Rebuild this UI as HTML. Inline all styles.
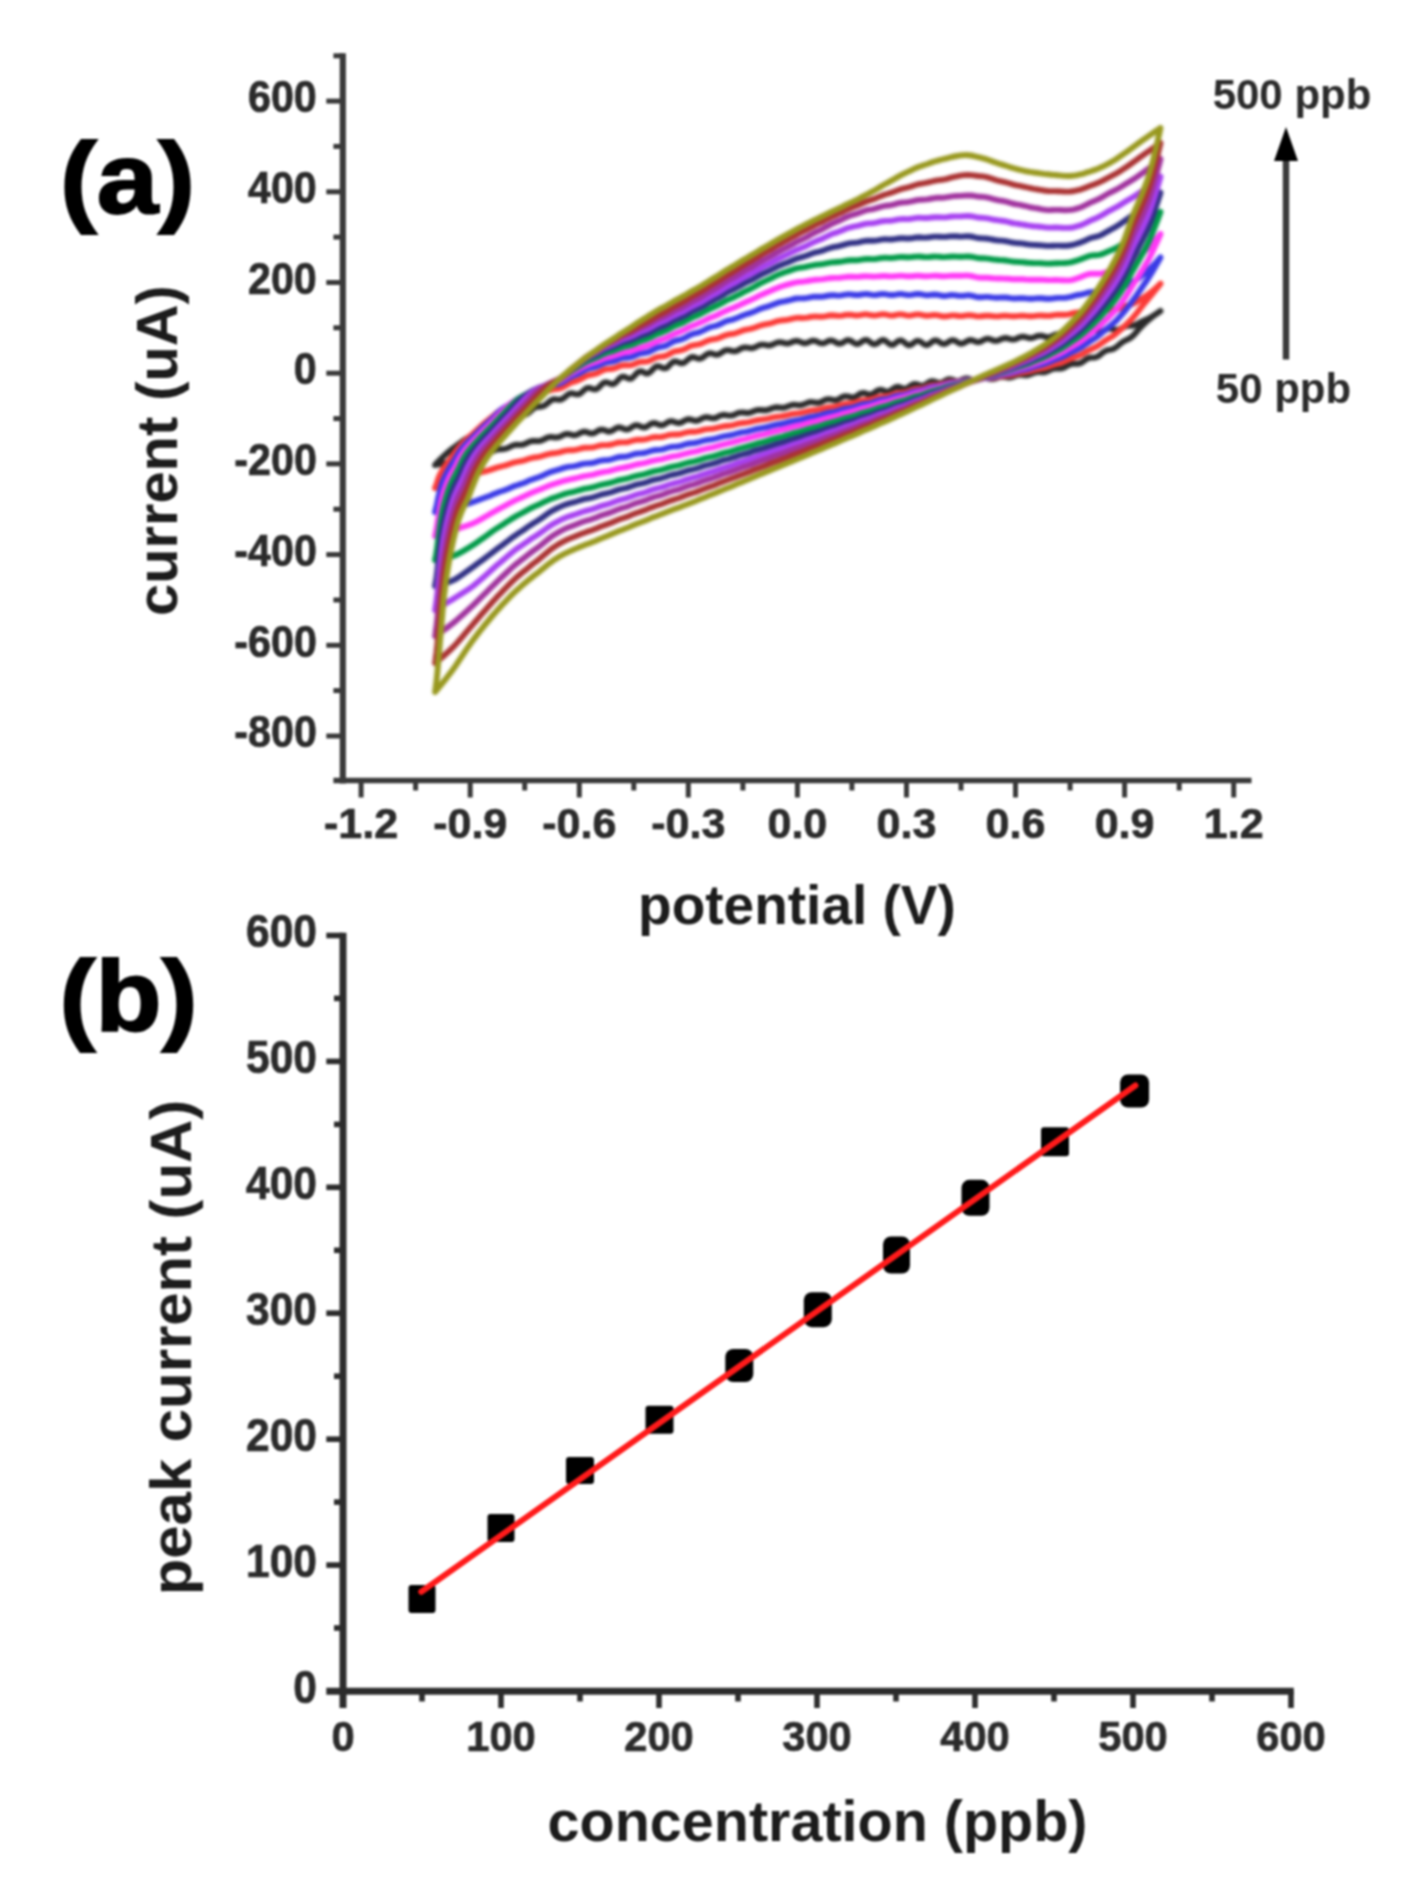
<!DOCTYPE html>
<html><head><meta charset="utf-8"><title>CV curves and calibration</title>
<style>
html,body{margin:0;padding:0;background:#fff;}
body{width:1407px;height:1878px;overflow:hidden;font-family:"Liberation Sans", sans-serif;}
svg{display:block;filter:blur(1.1px);}
</style></head>
<body>
<svg width="1407" height="1878" viewBox="0 0 1407 1878">
<rect width="1407" height="1878" fill="#ffffff"/>
<!-- panel a -->
<g fill="none" stroke-width="5.9" stroke-linejoin="round" stroke-linecap="round" style="filter:blur(0.8px)">
<path d="M435.0 465.0L435.0 465.0L435.0 465.0L435.1 464.9L435.2 464.8L435.3 464.7L435.4 464.6L435.5 464.5L435.7 464.3L435.8 464.1L436.0 463.9L436.2 463.7L436.5 463.4L436.7 463.2L437.0 462.9L437.3 462.6L437.6 462.2L437.9 461.9L438.3 461.5L438.7 461.1L439.1 460.7L439.5 460.3L439.9 459.8L440.4 459.4L440.9 458.9L441.4 458.4L441.9 457.9L442.4 457.4L443.0 456.9L443.5 456.3L444.1 455.8L444.8 455.2L445.4 454.6L446.0 454.0L446.7 453.4L447.4 452.8L448.1 452.2L448.9 451.5L449.6 450.9L450.4 450.2L451.2 449.6L452.0 448.9L452.8 448.3L453.7 447.7L454.6 447.1L455.5 446.4L456.4 445.8L457.3 445.1L458.2 444.4L459.2 443.7L460.2 443.0L461.2 442.2L462.2 441.4L463.3 440.6L464.3 439.9L465.4 439.2L466.5 438.6L467.6 438.0L468.8 437.5L469.9 437.1L471.1 436.6L472.3 436.2L473.5 435.7L474.7 435.1L476.0 434.4L477.2 433.5L478.5 432.7L479.8 431.8L481.1 431.0L482.5 430.3L483.8 429.7L485.2 429.3L486.6 429.1L488.0 428.9L489.4 428.7L490.9 428.4L492.3 427.9L493.8 427.2L495.3 426.3L496.8 425.3L498.3 424.4L499.9 423.7L501.4 423.2L503.0 422.9L504.6 422.9L506.2 422.8L507.8 422.6L509.5 422.0L511.1 421.1L512.8 419.8L514.5 418.5L516.2 417.2L517.9 416.3L519.7 415.7L521.4 415.5L523.2 415.3L525.0 414.9L526.8 414.1L528.6 412.9L530.4 411.3L532.3 409.6L534.1 408.1L536.0 407.2L537.9 406.7L539.8 406.7L541.7 406.5L543.7 406.0L545.6 404.8L547.6 403.2L549.5 401.5L551.5 400.1L553.5 399.3L555.6 399.3L557.6 399.6L559.6 399.8L561.7 399.3L563.8 398.0L565.9 396.2L568.0 394.5L570.1 393.4L572.2 393.3L574.3 393.8L576.5 394.4L578.6 394.3L580.8 393.1L583.0 391.1L585.2 389.1L587.4 387.9L589.6 387.9L591.9 388.7L594.1 389.4L596.4 389.2L598.6 387.6L600.9 385.2L603.2 383.1L605.5 382.2L607.8 382.6L610.1 383.7L612.5 384.3L614.8 383.4L617.2 381.1L619.5 378.4L621.9 376.8L624.3 376.7L626.7 377.9L629.1 378.9L631.5 378.5L633.9 376.4L636.3 373.6L638.8 371.6L641.2 371.2L643.7 372.3L646.2 373.5L648.6 373.3L651.1 371.3L653.6 368.5L656.1 366.4L658.6 366.1L661.1 367.2L663.7 368.4L666.2 368.1L668.7 366.1L671.3 363.3L673.8 361.5L676.4 361.4L679.0 362.6L681.5 363.4L684.1 362.8L686.7 360.7L689.3 358.3L691.9 357.0L694.5 357.3L697.1 358.4L699.7 358.9L702.3 357.8L705.0 355.7L707.6 353.8L710.2 353.2L712.9 353.8L715.5 354.7L718.2 354.6L720.8 353.2L723.5 351.3L726.1 350.1L728.8 350.1L731.5 350.9L734.2 351.4L736.8 350.8L739.5 349.3L742.2 347.8L744.9 347.3L747.6 347.7L750.3 348.2L753.0 348.1L755.7 347.0L758.4 345.5L761.1 344.6L763.8 344.6L766.5 345.2L769.2 345.5L771.9 344.9L774.6 343.6L777.4 342.4L780.1 342.1L782.8 342.7L785.5 343.4L788.2 343.5L791.0 342.5L793.7 341.3L796.4 340.8L799.1 341.4L801.8 342.6L804.5 343.3L807.3 342.8L810.0 341.6L812.7 340.6L815.4 340.9L818.1 342.2L820.9 343.4L823.6 343.4L826.3 342.1L829.0 340.7L831.7 340.4L834.4 341.5L837.1 343.1L839.8 343.8L842.5 342.9L845.2 341.1L847.9 340.0L850.6 340.7L853.3 342.5L856.0 344.0L858.7 343.7L861.3 342.0L864.0 340.2L866.7 339.9L869.4 341.5L872.0 343.6L874.7 344.4L877.3 343.3L880.0 341.2L882.6 339.9L885.3 340.7L887.9 342.8L890.5 344.7L893.2 344.7L895.8 342.9L898.4 340.9L901.0 340.3L903.6 341.8L906.2 344.0L908.8 345.3L911.4 344.6L914.0 342.6L916.5 340.9L919.1 340.9L921.7 342.5L924.2 344.5L926.8 345.2L929.3 344.0L931.8 341.9L934.4 340.4L936.9 340.5L939.4 342.1L941.9 343.7L944.4 344.1L946.9 343.0L949.3 341.3L951.8 340.1L954.3 340.4L956.7 341.8L959.2 343.3L961.6 343.8L964.0 343.0L966.4 341.5L968.8 340.3L971.2 340.0L973.6 340.8L976.0 341.8L978.3 342.2L980.7 341.6L983.0 340.3L985.4 339.1L987.7 338.7L990.0 339.2L992.3 340.1L994.6 340.9L996.9 340.9L999.1 340.1L1001.4 339.0L1003.6 338.2L1005.9 338.0L1008.1 338.4L1010.3 339.2L1012.5 339.6L1014.7 339.4L1016.9 338.5L1019.0 337.5L1021.2 336.8L1023.3 336.6L1025.4 337.0L1027.5 337.7L1029.6 338.2L1031.7 338.1L1033.8 337.5L1035.9 336.6L1037.9 335.9L1039.9 335.6L1042.0 335.8L1044.0 336.4L1046.0 337.0L1047.9 337.3L1049.9 337.0L1051.8 336.2L1053.8 335.2L1055.7 334.5L1057.6 334.1L1059.5 334.4L1061.4 334.9L1063.2 335.5L1065.1 335.8L1066.9 335.5L1068.7 334.7L1070.5 333.7L1072.3 332.6L1074.1 331.8L1075.8 331.6L1077.6 331.8L1079.3 332.3L1081.0 332.8L1082.7 332.9L1084.4 332.5L1086.0 331.6L1087.7 330.5L1089.3 329.5L1090.9 328.9L1092.5 328.9L1094.1 329.3L1095.6 330.1L1097.2 331.0L1098.7 331.7L1100.2 331.9L1101.7 331.7L1103.2 331.1L1104.6 330.3L1106.1 329.5L1107.5 328.8L1108.9 328.5L1110.3 328.5L1111.7 328.7L1113.0 329.2L1114.4 329.6L1115.7 329.9L1117.0 330.0L1118.3 329.8L1119.5 329.4L1120.8 328.8L1122.0 328.1L1123.2 327.4L1124.4 326.8L1125.6 326.3L1126.7 326.0L1127.9 325.9L1129.0 325.8L1130.1 325.8L1131.2 325.7L1132.2 325.7L1133.3 325.5L1134.3 325.3L1135.3 324.9L1136.3 324.5L1137.3 324.0L1138.2 323.5L1139.1 323.0L1140.0 322.4L1140.9 322.0L1141.8 321.5L1142.7 321.1L1143.5 320.7L1144.3 320.4L1145.1 320.0L1145.9 319.7L1146.6 319.4L1147.4 319.0L1148.1 318.7L1148.8 318.4L1149.5 318.0L1150.1 317.6L1150.7 317.3L1151.4 316.9L1152.0 316.6L1152.5 316.2L1153.1 315.9L1153.6 315.6L1154.1 315.2L1154.6 314.9L1155.1 314.6L1155.6 314.3L1156.0 314.1L1156.4 313.8L1156.8 313.5L1157.2 313.3L1157.6 313.0L1157.9 312.8L1158.2 312.6L1158.5 312.4L1158.8 312.2L1159.0 312.0L1159.3 311.9L1159.5 311.7L1159.7 311.6L1159.8 311.5L1160.0 311.4L1160.1 311.3L1160.2 311.2L1160.3 311.1L1160.4 311.1L1160.5 311.0L1160.5 311.0L1160.5 311.0L1160.5 311.0L1160.5 311.0L1160.5 311.0L1160.4 311.1L1160.3 311.1L1160.2 311.2L1160.1 311.2L1160.0 311.3L1159.8 311.4L1159.7 311.5L1159.5 311.7L1159.3 311.8L1159.0 311.9L1158.8 312.1L1158.5 312.3L1158.2 312.5L1157.9 312.7L1157.6 312.9L1157.2 313.2L1156.8 313.4L1156.4 313.7L1156.0 314.0L1155.6 314.3L1155.1 314.7L1154.6 315.0L1154.1 315.4L1153.6 315.8L1153.1 316.2L1152.5 316.6L1152.0 317.0L1151.4 317.5L1150.7 318.0L1150.1 318.5L1149.5 319.1L1148.8 319.6L1148.1 320.2L1147.4 320.9L1146.6 321.5L1145.9 322.2L1145.1 322.9L1144.3 323.7L1143.5 324.4L1142.7 325.2L1141.8 326.1L1140.9 327.0L1140.0 328.0L1139.1 328.9L1138.2 330.0L1137.3 331.1L1136.3 332.2L1135.3 333.3L1134.3 334.4L1133.3 335.5L1132.2 336.4L1131.2 337.3L1130.1 338.1L1129.0 338.7L1127.9 339.3L1126.7 339.8L1125.6 340.4L1124.4 340.9L1123.2 341.6L1122.0 342.4L1120.8 343.3L1119.5 344.3L1118.3 345.4L1117.0 346.5L1115.7 347.5L1114.4 348.3L1113.0 349.0L1111.7 349.4L1110.3 349.7L1108.9 349.9L1107.5 350.2L1106.1 350.6L1104.6 351.3L1103.2 352.3L1101.7 353.5L1100.2 354.8L1098.7 355.9L1097.2 356.8L1095.6 357.3L1094.1 357.6L1092.5 357.6L1090.9 357.6L1089.3 357.8L1087.7 358.4L1086.0 359.4L1084.4 360.6L1082.7 361.8L1081.0 362.9L1079.3 363.5L1077.6 363.8L1075.8 363.8L1074.1 363.7L1072.3 363.8L1070.5 364.2L1068.7 365.0L1066.9 366.0L1065.1 367.1L1063.2 368.0L1061.4 368.5L1059.5 368.6L1057.6 368.5L1055.7 368.4L1053.8 368.6L1051.8 369.2L1049.9 370.1L1047.9 371.0L1046.0 371.8L1044.0 372.3L1042.0 372.3L1039.9 372.1L1037.9 372.1L1035.9 372.3L1033.8 372.9L1031.7 373.7L1029.6 374.6L1027.5 375.2L1025.4 375.3L1023.3 375.1L1021.2 374.9L1019.0 374.9L1016.9 375.3L1014.7 376.1L1012.5 376.9L1010.3 377.5L1008.1 377.5L1005.9 377.2L1003.6 376.8L1001.4 376.6L999.1 377.1L996.9 377.9L994.6 378.7L992.3 379.1L990.0 378.9L987.7 378.3L985.4 377.8L983.0 377.8L980.7 378.5L978.3 379.5L976.0 380.2L973.6 380.2L971.2 379.5L968.8 378.7L966.4 378.3L964.0 378.9L961.6 380.0L959.2 381.1L956.7 381.3L954.3 380.6L951.8 379.6L949.3 379.1L946.9 379.8L944.4 381.2L941.9 382.6L939.4 383.0L936.9 382.4L934.4 381.4L931.8 381.1L929.3 382.0L926.8 383.7L924.2 385.3L921.7 385.8L919.1 385.0L916.5 384.1L914.0 384.0L911.4 385.2L908.8 387.2L906.2 388.6L903.6 388.7L901.0 387.7L898.4 386.8L895.8 387.1L893.2 388.7L890.5 390.6L887.9 391.7L885.3 391.3L882.6 390.2L880.0 389.7L877.3 390.6L874.7 392.5L872.0 394.2L869.4 394.6L866.7 393.8L864.0 392.9L861.3 393.1L858.7 394.6L856.0 396.4L853.3 397.4L850.6 397.2L847.9 396.4L845.2 396.1L842.5 396.9L839.8 398.5L837.1 399.9L834.4 400.2L831.7 399.7L829.0 399.1L826.3 399.4L823.6 400.7L820.9 402.1L818.1 402.8L815.4 402.6L812.7 402.1L810.0 402.0L807.3 402.9L804.5 404.1L801.8 405.1L799.1 405.3L796.4 404.9L793.7 404.7L791.0 405.2L788.2 406.2L785.5 407.3L782.8 407.8L780.1 407.6L777.4 407.3L774.6 407.5L771.9 408.3L769.2 409.4L766.5 410.2L763.8 410.3L761.1 410.0L758.4 409.9L755.7 410.4L753.0 411.5L750.3 412.6L747.6 413.0L744.9 412.7L742.2 412.4L739.5 412.6L736.8 413.6L734.2 414.8L731.5 415.6L728.8 415.6L726.1 415.1L723.5 414.8L720.8 415.4L718.2 416.7L715.5 418.0L712.9 418.4L710.2 417.9L707.6 417.2L705.0 417.2L702.3 418.2L699.7 419.8L697.1 420.8L694.5 420.7L691.9 419.9L689.3 419.2L686.7 419.5L684.1 420.9L681.5 422.4L679.0 423.2L676.4 422.7L673.8 421.7L671.3 421.1L668.7 421.7L666.2 423.3L663.7 424.8L661.1 425.4L658.6 424.7L656.1 423.5L653.6 423.0L651.1 423.7L648.6 425.4L646.2 427.0L643.7 427.5L641.2 426.8L638.8 425.6L636.3 425.1L633.9 425.8L631.5 427.4L629.1 429.0L626.7 429.6L624.3 429.1L621.9 428.0L619.5 427.3L617.2 427.6L614.8 429.0L612.5 430.6L610.1 431.5L607.8 431.5L605.5 430.6L603.2 429.7L600.9 429.6L598.6 430.4L596.4 431.8L594.1 433.1L591.9 433.5L589.6 433.2L587.4 432.3L585.2 431.7L583.0 431.8L580.8 432.7L578.6 433.9L576.5 434.9L574.3 435.3L572.2 435.0L570.1 434.4L568.0 433.9L565.9 434.0L563.8 434.7L561.7 435.8L559.6 436.8L557.6 437.4L555.6 437.5L553.5 437.3L551.5 437.0L549.5 437.0L547.6 437.5L545.6 438.5L543.7 439.5L541.7 440.4L539.8 441.0L537.9 441.1L536.0 441.0L534.1 440.9L532.3 441.0L530.4 441.4L528.6 442.1L526.8 443.0L525.0 443.9L523.2 444.5L521.4 444.9L519.7 444.9L517.9 444.8L516.2 444.8L514.5 445.0L512.8 445.5L511.1 446.3L509.5 447.1L507.8 447.9L506.2 448.5L504.6 448.9L503.0 449.1L501.4 449.2L499.9 449.3L498.3 449.4L496.8 449.7L495.3 450.2L493.8 450.8L492.3 451.4L490.9 452.1L489.4 452.6L488.0 453.0L486.6 453.3L485.2 453.5L483.8 453.6L482.5 453.7L481.1 453.9L479.8 454.2L478.5 454.5L477.2 454.9L476.0 455.4L474.7 455.9L473.5 456.4L472.3 456.8L471.1 457.1L469.9 457.4L468.8 457.6L467.6 457.8L466.5 458.0L465.4 458.2L464.3 458.3L463.3 458.6L462.2 458.8L461.2 459.1L460.2 459.4L459.2 459.7L458.2 460.0L457.3 460.3L456.4 460.6L455.5 460.9L454.6 461.1L453.7 461.3L452.8 461.5L452.0 461.6L451.2 461.8L450.4 461.9L449.6 462.1L448.9 462.2L448.1 462.4L447.4 462.5L446.7 462.7L446.0 462.8L445.4 463.0L444.8 463.1L444.1 463.2L443.5 463.4L443.0 463.5L442.4 463.6L441.9 463.7L441.4 463.8L440.9 463.9L440.4 464.0L439.9 464.1L439.5 464.2L439.1 464.2L438.7 464.3L438.3 464.4L437.9 464.5L437.6 464.5L437.3 464.6L437.0 464.6L436.7 464.7L436.5 464.7L436.2 464.8L436.0 464.8L435.8 464.8L435.7 464.9L435.5 464.9L435.4 464.9L435.3 465.0L435.2 465.0L435.1 465.0L435.0 465.0L435.0 465.0L435.0 465.0Z" stroke="#2a2a2a"/>
<path d="M435.0 488.0L435.0 488.0L435.0 487.9L435.1 487.8L435.2 487.6L435.3 487.4L435.4 487.2L435.5 486.8L435.7 486.5L435.8 486.0L436.0 485.6L436.2 485.0L436.5 484.4L436.7 483.7L437.0 482.9L437.3 481.9L437.6 480.9L437.9 479.8L438.3 478.7L438.7 477.7L439.1 476.7L439.5 475.8L439.9 474.8L440.4 473.8L440.9 472.9L441.4 471.9L441.9 471.0L442.4 470.1L443.0 469.2L443.5 468.3L444.1 467.4L444.8 466.5L445.4 465.6L446.0 464.7L446.7 463.7L447.4 462.8L448.1 461.9L448.9 461.0L449.6 460.0L450.4 459.0L451.2 457.8L452.0 456.6L452.8 455.4L453.7 454.2L454.6 453.0L455.5 451.8L456.4 450.6L457.3 449.4L458.2 448.2L459.2 447.0L460.2 445.9L461.2 444.7L462.2 443.6L463.3 442.5L464.3 441.4L465.4 440.4L466.5 439.3L467.6 438.3L468.8 437.3L469.9 436.2L471.1 435.2L472.3 434.2L473.5 433.1L474.7 432.0L476.0 430.9L477.2 429.7L478.5 428.5L479.8 427.3L481.1 426.0L482.5 424.8L483.8 423.6L485.2 422.5L486.6 421.3L488.0 420.2L489.4 419.1L490.9 417.9L492.3 416.7L493.8 415.5L495.3 414.3L496.8 413.0L498.3 411.9L499.9 410.8L501.4 409.8L503.0 408.9L504.6 408.0L506.2 407.2L507.8 406.4L509.5 405.5L511.1 404.5L512.8 403.5L514.5 402.4L516.2 401.4L517.9 400.5L519.7 399.8L521.4 399.1L523.2 398.5L525.0 397.9L526.8 397.2L528.6 396.4L530.4 395.5L532.3 394.6L534.1 393.9L536.0 393.3L537.9 392.9L539.8 392.6L541.7 392.4L543.7 392.2L545.6 391.7L547.6 391.1L549.5 390.4L551.5 389.8L553.5 389.4L555.6 389.1L557.6 388.9L559.6 388.5L561.7 387.8L563.8 386.7L565.9 385.5L568.0 384.2L570.1 383.1L572.2 382.3L574.3 381.6L576.5 380.9L578.6 380.1L580.8 379.0L583.0 377.8L585.2 376.6L587.4 375.6L589.6 375.0L591.9 374.6L594.1 374.2L596.4 373.5L598.6 372.5L600.9 371.3L603.2 370.2L605.5 369.4L607.8 369.1L610.1 369.0L612.5 368.8L614.8 368.2L617.2 367.2L619.5 366.2L621.9 365.5L624.3 365.3L626.7 365.3L629.1 365.4L631.5 365.1L633.9 364.2L636.3 363.2L638.8 362.2L641.2 361.8L643.7 361.7L646.2 361.6L648.6 361.1L651.1 360.0L653.6 358.7L656.1 357.5L658.6 356.9L661.1 356.6L663.7 356.3L666.2 355.6L668.7 354.4L671.3 352.9L673.8 351.7L676.4 351.0L679.0 350.7L681.5 350.2L684.1 349.3L686.7 348.0L689.3 346.6L691.9 345.6L694.5 345.0L697.1 344.6L699.7 344.1L702.3 343.2L705.0 341.9L707.6 340.7L710.2 339.9L712.9 339.4L715.5 339.0L718.2 338.3L720.8 337.2L723.5 336.0L726.1 335.1L728.8 334.4L731.5 334.0L734.2 333.6L736.8 332.8L739.5 331.8L742.2 330.7L744.9 329.9L747.6 329.4L750.3 328.9L753.0 328.2L755.7 327.3L758.4 326.2L761.1 325.3L763.8 324.7L766.5 324.2L769.2 323.7L771.9 323.0L774.6 322.0L777.4 321.2L780.1 320.6L782.8 320.3L785.5 320.0L788.2 319.6L791.0 319.0L793.7 318.3L796.4 317.9L799.1 317.8L801.8 318.0L804.5 317.9L807.3 317.6L810.0 317.0L812.7 316.6L815.4 316.4L818.1 316.6L820.9 316.8L823.6 316.6L826.3 316.1L829.0 315.5L831.7 315.3L834.4 315.5L837.1 315.8L839.8 315.9L842.5 315.6L845.2 314.9L847.9 314.6L850.6 314.7L853.3 315.1L856.0 315.5L858.7 315.4L861.3 314.9L864.0 314.4L866.7 314.3L869.4 314.8L872.0 315.3L874.7 315.6L877.3 315.2L880.0 314.6L882.6 314.2L885.3 314.4L887.9 315.0L890.5 315.6L893.2 315.5L895.8 315.0L898.4 314.4L901.0 314.3L903.6 314.7L906.2 315.3L908.8 315.7L911.4 315.4L914.0 314.9L916.5 314.4L919.1 314.4L921.7 314.9L924.2 315.5L926.8 315.8L929.3 315.6L931.8 315.2L934.4 314.9L936.9 315.1L939.4 315.7L941.9 316.3L944.4 316.5L946.9 316.3L949.3 315.8L951.8 315.4L954.3 315.4L956.7 315.7L959.2 316.0L961.6 316.1L964.0 315.8L966.4 315.4L968.8 315.1L971.2 315.3L973.6 315.7L976.0 316.2L978.3 316.4L980.7 316.3L983.0 316.0L985.4 315.7L987.7 315.6L990.0 315.8L992.3 316.1L994.6 316.3L996.9 316.4L999.1 316.2L1001.4 315.9L1003.6 315.7L1005.9 315.7L1008.1 315.9L1010.3 316.1L1012.5 316.3L1014.7 316.3L1016.9 316.1L1019.0 315.9L1021.2 315.7L1023.3 315.7L1025.4 315.9L1027.5 316.1L1029.6 316.3L1031.7 316.2L1033.8 316.1L1035.9 315.8L1037.9 315.6L1039.9 315.5L1042.0 315.5L1044.0 315.7L1046.0 315.8L1047.9 315.9L1049.9 315.8L1051.8 315.5L1053.8 315.2L1055.7 314.9L1057.6 314.7L1059.5 314.7L1061.4 314.8L1063.2 314.8L1065.1 314.8L1066.9 314.6L1068.7 314.3L1070.5 313.8L1072.3 313.4L1074.1 313.0L1075.8 312.7L1077.6 312.5L1079.3 312.5L1081.0 312.4L1082.7 312.2L1084.4 311.9L1086.0 311.5L1087.7 311.1L1089.3 310.7L1090.9 310.5L1092.5 310.5L1094.1 310.6L1095.6 310.8L1097.2 311.1L1098.7 311.2L1100.2 311.3L1101.7 311.1L1103.2 310.9L1104.6 310.6L1106.1 310.2L1107.5 310.0L1108.9 309.7L1110.3 309.6L1111.7 309.5L1113.0 309.4L1114.4 309.4L1115.7 309.3L1117.0 309.1L1118.3 308.8L1119.5 308.4L1120.8 308.0L1122.0 307.5L1123.2 307.1L1124.4 306.6L1125.6 306.1L1126.7 305.7L1127.9 305.3L1129.0 305.0L1130.1 304.6L1131.2 304.3L1132.2 303.9L1133.3 303.5L1134.3 303.0L1135.3 302.5L1136.3 302.0L1137.3 301.5L1138.2 300.9L1139.1 300.4L1140.0 299.8L1140.9 299.2L1141.8 298.7L1142.7 298.1L1143.5 297.6L1144.3 297.1L1145.1 296.6L1145.9 296.0L1146.6 295.5L1147.4 295.0L1148.1 294.5L1148.8 294.0L1149.5 293.5L1150.1 293.0L1150.7 292.5L1151.4 292.0L1152.0 291.5L1152.5 291.0L1153.1 290.5L1153.6 290.1L1154.1 289.6L1154.6 289.2L1155.1 288.8L1155.6 288.4L1156.0 288.0L1156.4 287.6L1156.8 287.2L1157.2 286.9L1157.6 286.6L1157.9 286.2L1158.2 285.9L1158.5 285.7L1158.8 285.4L1159.0 285.2L1159.3 284.9L1159.5 284.7L1159.7 284.5L1159.8 284.4L1160.0 284.2L1160.1 284.1L1160.2 284.0L1160.3 283.9L1160.4 283.8L1160.5 283.7L1160.5 283.7L1160.5 283.7L1160.5 283.7L1160.5 283.7L1160.5 283.7L1160.4 283.8L1160.3 283.9L1160.2 284.0L1160.1 284.1L1160.0 284.3L1159.8 284.5L1159.7 284.7L1159.5 284.9L1159.3 285.2L1159.0 285.5L1158.8 285.8L1158.5 286.1L1158.2 286.5L1157.9 286.9L1157.6 287.3L1157.2 287.8L1156.8 288.2L1156.4 288.7L1156.0 289.2L1155.6 289.8L1155.1 290.3L1154.6 290.9L1154.1 291.5L1153.6 292.2L1153.1 292.9L1152.5 293.5L1152.0 294.3L1151.4 295.0L1150.7 295.7L1150.1 296.5L1149.5 297.3L1148.8 298.1L1148.1 298.9L1147.4 299.8L1146.6 300.7L1145.9 301.6L1145.1 302.5L1144.3 303.5L1143.5 304.5L1142.7 305.5L1141.8 306.6L1140.9 307.7L1140.0 308.9L1139.1 310.0L1138.2 311.2L1137.3 312.4L1136.3 313.6L1135.3 314.8L1134.3 316.0L1133.3 317.2L1132.2 318.4L1131.2 319.5L1130.1 320.7L1129.0 321.8L1127.9 322.9L1126.7 324.0L1125.6 325.1L1124.4 326.2L1123.2 327.2L1122.0 328.3L1120.8 329.4L1119.5 330.5L1118.3 331.6L1117.0 332.7L1115.7 333.8L1114.4 334.8L1113.0 335.8L1111.7 336.7L1110.3 337.5L1108.9 338.3L1107.5 339.2L1106.1 340.0L1104.6 341.0L1103.2 342.0L1101.7 343.1L1100.2 344.1L1098.7 345.2L1097.2 346.2L1095.6 347.0L1094.1 347.8L1092.5 348.5L1090.9 349.3L1089.3 350.0L1087.7 350.9L1086.0 351.8L1084.4 352.8L1082.7 353.8L1081.0 354.7L1079.3 355.5L1077.6 356.2L1075.8 356.8L1074.1 357.4L1072.3 358.0L1070.5 358.6L1068.7 359.4L1066.9 360.3L1065.1 361.1L1063.2 361.9L1061.4 362.6L1059.5 363.1L1057.6 363.6L1055.7 364.0L1053.8 364.6L1051.8 365.2L1049.9 365.9L1047.9 366.6L1046.0 367.3L1044.0 367.8L1042.0 368.2L1039.9 368.6L1037.9 369.0L1035.9 369.4L1033.8 370.0L1031.7 370.6L1029.6 371.2L1027.5 371.7L1025.4 372.1L1023.3 372.4L1021.2 372.7L1019.0 373.0L1016.9 373.4L1014.7 374.0L1012.5 374.5L1010.3 375.0L1008.1 375.3L1005.9 375.5L1003.6 375.7L1001.4 375.9L999.1 376.3L996.9 376.8L994.6 377.3L992.3 377.7L990.0 377.9L987.7 378.0L985.4 378.1L983.0 378.3L980.7 378.8L978.3 379.3L976.0 379.7L973.6 380.0L971.2 380.0L968.8 380.0L966.4 380.1L964.0 380.5L961.6 381.1L959.2 381.6L956.7 381.9L954.3 382.0L951.8 382.0L949.3 382.2L946.9 382.7L944.4 383.5L941.9 384.2L939.4 384.7L936.9 385.0L934.4 385.1L931.8 385.4L929.3 386.1L926.8 387.1L924.2 388.0L921.7 388.6L919.1 388.8L916.5 389.0L914.0 389.4L911.4 390.3L908.8 391.3L906.2 392.1L903.6 392.6L901.0 392.8L898.4 392.9L895.8 393.4L893.2 394.3L890.5 395.3L887.9 396.0L885.3 396.3L882.6 396.4L880.0 396.7L877.3 397.4L874.7 398.3L872.0 399.2L869.4 399.7L866.7 399.9L864.0 400.1L861.3 400.6L858.7 401.4L856.0 402.3L853.3 403.0L850.6 403.4L847.9 403.5L845.2 403.9L842.5 404.5L839.8 405.4L837.1 406.2L834.4 406.6L831.7 406.9L829.0 407.1L826.3 407.6L823.6 408.3L820.9 409.1L818.1 409.7L815.4 410.1L812.7 410.3L810.0 410.7L807.3 411.3L804.5 412.0L801.8 412.7L799.1 413.1L796.4 413.4L793.7 413.7L791.0 414.2L788.2 414.9L785.5 415.5L782.8 416.0L780.1 416.4L777.4 416.7L774.6 417.1L771.9 417.7L769.2 418.4L766.5 418.9L763.8 419.3L761.1 419.6L758.4 420.0L755.7 420.5L753.0 421.2L750.3 421.9L747.6 422.4L744.9 422.7L742.2 423.0L739.5 423.4L736.8 424.0L734.2 424.8L731.5 425.4L728.8 425.7L726.1 426.0L723.5 426.3L720.8 426.8L718.2 427.5L715.5 428.2L712.9 428.7L710.2 428.9L707.6 429.1L705.0 429.4L702.3 430.1L699.7 430.8L697.1 431.4L694.5 431.8L691.9 431.8L689.3 431.9L686.7 432.3L684.1 433.0L681.5 433.8L679.0 434.3L676.4 434.5L673.8 434.5L671.3 434.6L668.7 435.0L666.2 435.8L663.7 436.5L661.1 437.0L658.6 437.1L656.1 437.0L653.6 437.2L651.1 437.7L648.6 438.5L646.2 439.2L643.7 439.6L641.2 439.7L638.8 439.7L636.3 439.8L633.9 440.3L631.5 441.0L629.1 441.8L626.7 442.3L624.3 442.4L621.9 442.4L619.5 442.5L617.2 442.8L614.8 443.5L612.5 444.2L610.1 444.8L607.8 445.0L605.5 445.1L603.2 445.1L600.9 445.3L598.6 445.8L596.4 446.5L594.1 447.1L591.9 447.5L589.6 447.6L587.4 447.7L585.2 447.7L583.0 448.0L580.8 448.5L578.6 449.1L576.5 449.6L574.3 450.0L572.2 450.2L570.1 450.2L568.0 450.4L565.9 450.7L563.8 451.1L561.7 451.7L559.6 452.3L557.6 452.7L555.6 453.1L553.5 453.3L551.5 453.5L549.5 453.9L547.6 454.3L545.6 454.9L543.7 455.5L541.7 456.1L539.8 456.6L537.9 457.0L536.0 457.3L534.1 457.5L532.3 457.9L530.4 458.3L528.6 458.9L526.8 459.5L525.0 460.1L523.2 460.6L521.4 461.0L519.7 461.3L517.9 461.7L516.2 462.0L514.5 462.4L512.8 462.9L511.1 463.4L509.5 464.0L507.8 464.6L506.2 465.1L504.6 465.6L503.0 466.0L501.4 466.4L499.9 466.8L498.3 467.2L496.8 467.6L495.3 468.1L493.8 468.6L492.3 469.1L490.9 469.6L489.4 470.1L488.0 470.5L486.6 471.0L485.2 471.3L483.8 471.7L482.5 472.0L481.1 472.4L479.8 472.8L478.5 473.2L477.2 473.6L476.0 474.1L474.7 474.5L473.5 475.0L472.3 475.4L471.1 475.8L469.9 476.2L468.8 476.6L467.6 476.9L466.5 477.3L465.4 477.6L464.3 478.0L463.3 478.3L462.2 478.7L461.2 479.1L460.2 479.4L459.2 479.8L458.2 480.2L457.3 480.5L456.4 480.9L455.5 481.2L454.6 481.5L453.7 481.8L452.8 482.1L452.0 482.4L451.2 482.7L450.4 482.9L449.6 483.2L448.9 483.4L448.1 483.7L447.4 483.9L446.7 484.1L446.0 484.4L445.4 484.6L444.8 484.8L444.1 485.0L443.5 485.2L443.0 485.4L442.4 485.6L441.9 485.8L441.4 485.9L440.9 486.1L440.4 486.2L439.9 486.4L439.5 486.5L439.1 486.7L438.7 486.8L438.3 486.9L437.9 487.0L437.6 487.2L437.3 487.3L437.0 487.4L436.7 487.4L436.5 487.5L436.2 487.6L436.0 487.7L435.8 487.7L435.7 487.8L435.5 487.8L435.4 487.9L435.3 487.9L435.2 487.9L435.1 488.0L435.0 488.0L435.0 488.0L435.0 488.0Z" stroke="#fb3a36"/>
<path d="M435.0 512.0L435.0 512.0L435.0 511.9L435.1 511.7L435.2 511.5L435.3 511.1L435.4 510.7L435.5 510.3L435.7 509.7L435.8 509.0L436.0 508.3L436.2 507.4L436.5 506.4L436.7 505.3L437.0 504.0L437.3 502.5L437.6 500.9L437.9 499.1L438.3 497.3L438.7 495.6L439.1 493.9L439.5 492.1L439.9 490.4L440.4 488.6L440.9 486.9L441.4 485.3L441.9 483.8L442.4 482.4L443.0 481.0L443.5 479.7L444.1 478.3L444.8 476.9L445.4 475.5L446.0 474.2L446.7 472.8L447.4 471.6L448.1 470.3L448.9 469.1L449.6 467.9L450.4 466.6L451.2 465.3L452.0 464.0L452.8 462.7L453.7 461.3L454.6 459.9L455.5 458.4L456.4 456.8L457.3 455.2L458.2 453.7L459.2 452.2L460.2 450.8L461.2 449.4L462.2 448.1L463.3 446.8L464.3 445.6L465.4 444.4L466.5 443.3L467.6 442.1L468.8 441.0L469.9 439.9L471.1 438.8L472.3 437.6L473.5 436.5L474.7 435.3L476.0 434.1L477.2 432.8L478.5 431.5L479.8 430.2L481.1 428.9L482.5 427.6L483.8 426.3L485.2 425.1L486.6 423.8L488.0 422.5L489.4 421.2L490.9 419.9L492.3 418.5L493.8 417.0L495.3 415.5L496.8 413.9L498.3 412.4L499.9 411.0L501.4 409.7L503.0 408.6L504.6 407.6L506.2 406.6L507.8 405.7L509.5 404.6L511.1 403.5L512.8 402.3L514.5 401.1L516.2 399.9L517.9 398.8L519.7 397.9L521.4 397.0L523.2 396.2L525.0 395.4L526.8 394.5L528.6 393.6L530.4 392.6L532.3 391.7L534.1 390.8L536.0 390.1L537.9 389.6L539.8 389.2L541.7 388.8L543.7 388.3L545.6 387.8L547.6 387.0L549.5 386.2L551.5 385.5L553.5 385.0L555.6 384.5L557.6 384.1L559.6 383.5L561.7 382.6L563.8 381.4L565.9 380.0L568.0 378.5L570.1 377.3L572.2 376.3L574.3 375.4L576.5 374.6L578.6 373.6L580.8 372.4L583.0 371.2L585.2 369.9L587.4 368.9L589.6 368.2L591.9 367.8L594.1 367.3L596.4 366.6L598.6 365.6L600.9 364.5L603.2 363.4L605.5 362.6L607.8 362.2L610.1 361.9L612.5 361.6L614.8 360.9L617.2 360.0L619.5 358.9L621.9 358.2L624.3 357.8L626.7 357.7L629.1 357.5L631.5 357.1L633.9 356.2L636.3 355.0L638.8 354.0L641.2 353.4L643.7 353.1L646.2 352.7L648.6 352.1L651.1 350.9L653.6 349.5L656.1 348.3L658.6 347.4L661.1 346.9L663.7 346.4L666.2 345.6L668.7 344.2L671.3 342.7L673.8 341.4L676.4 340.5L679.0 340.0L681.5 339.3L684.1 338.3L686.7 336.9L689.3 335.4L691.9 334.2L694.5 333.4L697.1 332.8L699.7 332.1L702.3 330.9L705.0 329.6L707.6 328.2L710.2 327.2L712.9 326.5L715.5 325.9L718.2 325.0L720.8 323.8L723.5 322.4L726.1 321.3L728.8 320.4L731.5 319.8L734.2 319.1L736.8 318.1L739.5 316.9L742.2 315.7L744.9 314.7L747.6 313.8L750.3 313.1L753.0 312.1L755.7 310.9L758.4 309.6L761.1 308.5L763.8 307.6L766.5 306.9L769.2 306.1L771.9 305.1L774.6 304.0L777.4 302.9L780.1 302.1L782.8 301.6L785.5 301.1L788.2 300.5L791.0 299.8L793.7 299.0L796.4 298.5L799.1 298.4L801.8 298.4L804.5 298.3L807.3 297.9L810.0 297.3L812.7 296.8L815.4 296.6L818.1 296.7L820.9 296.8L823.6 296.5L826.3 296.0L829.0 295.5L831.7 295.2L834.4 295.3L837.1 295.6L839.8 295.6L842.5 295.2L845.2 294.7L847.9 294.3L850.6 294.4L853.3 294.7L856.0 295.0L858.7 295.0L861.3 294.5L864.0 294.1L866.7 294.0L869.4 294.4L872.0 294.9L874.7 295.1L877.3 294.8L880.0 294.2L882.6 293.9L885.3 294.1L887.9 294.6L890.5 295.0L893.2 295.0L895.8 294.6L898.4 294.1L901.0 293.9L903.6 294.3L906.2 294.8L908.8 295.1L911.4 294.9L914.0 294.4L916.5 294.0L919.1 294.0L921.7 294.4L924.2 294.9L926.8 295.2L929.3 295.1L931.8 294.7L934.4 294.5L936.9 294.7L939.4 295.2L941.9 295.8L944.4 296.0L946.9 295.7L949.3 295.3L951.8 295.0L954.3 295.1L956.7 295.5L959.2 295.8L961.6 295.9L964.0 295.8L966.4 295.4L968.8 295.3L971.2 295.6L973.6 296.2L976.0 296.9L978.3 297.3L980.7 297.3L983.0 297.1L985.4 296.9L987.7 296.9L990.0 297.1L992.3 297.4L994.6 297.6L996.9 297.7L999.1 297.6L1001.4 297.5L1003.6 297.4L1005.9 297.5L1008.1 297.7L1010.3 298.1L1012.5 298.4L1014.7 298.5L1016.9 298.4L1019.0 298.3L1021.2 298.2L1023.3 298.2L1025.4 298.4L1027.5 298.6L1029.6 298.7L1031.7 298.8L1033.8 298.6L1035.9 298.4L1037.9 298.3L1039.9 298.2L1042.0 298.3L1044.0 298.5L1046.0 298.7L1047.9 298.8L1049.9 298.7L1051.8 298.6L1053.8 298.3L1055.7 298.1L1057.6 297.9L1059.5 297.9L1061.4 297.9L1063.2 297.9L1065.1 297.8L1066.9 297.6L1068.7 297.2L1070.5 296.8L1072.3 296.3L1074.1 295.8L1075.8 295.4L1077.6 295.0L1079.3 294.8L1081.0 294.5L1082.7 294.1L1084.4 293.7L1086.0 293.2L1087.7 292.7L1089.3 292.3L1090.9 292.1L1092.5 292.0L1094.1 292.1L1095.6 292.3L1097.2 292.5L1098.7 292.6L1100.2 292.6L1101.7 292.4L1103.2 292.1L1104.6 291.7L1106.1 291.3L1107.5 291.0L1108.9 290.7L1110.3 290.4L1111.7 290.2L1113.0 290.0L1114.4 289.8L1115.7 289.6L1117.0 289.3L1118.3 288.9L1119.5 288.4L1120.8 287.8L1122.0 287.3L1123.2 286.7L1124.4 286.1L1125.6 285.5L1126.7 284.9L1127.9 284.4L1129.0 283.9L1130.1 283.4L1131.2 282.9L1132.2 282.3L1133.3 281.7L1134.3 281.1L1135.3 280.5L1136.3 279.8L1137.3 279.2L1138.2 278.5L1139.1 277.8L1140.0 277.1L1140.9 276.4L1141.8 275.7L1142.7 275.0L1143.5 274.3L1144.3 273.7L1145.1 273.0L1145.9 272.4L1146.6 271.7L1147.4 271.1L1148.1 270.5L1148.8 269.8L1149.5 269.2L1150.1 268.6L1150.7 267.9L1151.4 267.3L1152.0 266.8L1152.5 266.2L1153.1 265.6L1153.6 265.1L1154.1 264.5L1154.6 264.0L1155.1 263.5L1155.6 263.0L1156.0 262.5L1156.4 262.1L1156.8 261.6L1157.2 261.2L1157.6 260.8L1157.9 260.4L1158.2 260.1L1158.5 259.7L1158.8 259.4L1159.0 259.1L1159.3 258.9L1159.5 258.6L1159.7 258.4L1159.8 258.2L1160.0 258.0L1160.1 257.8L1160.2 257.7L1160.3 257.6L1160.4 257.5L1160.5 257.4L1160.5 257.4L1160.5 257.4L1160.5 257.4L1160.5 257.4L1160.5 257.5L1160.4 257.6L1160.3 257.7L1160.2 257.9L1160.1 258.1L1160.0 258.3L1159.8 258.6L1159.7 258.9L1159.5 259.2L1159.3 259.6L1159.0 260.0L1158.8 260.5L1158.5 261.0L1158.2 261.5L1157.9 262.0L1157.6 262.6L1157.2 263.3L1156.8 263.9L1156.4 264.6L1156.0 265.3L1155.6 266.1L1155.1 266.9L1154.6 267.7L1154.1 268.6L1153.6 269.5L1153.1 270.4L1152.5 271.4L1152.0 272.3L1151.4 273.3L1150.7 274.3L1150.1 275.3L1149.5 276.3L1148.8 277.4L1148.1 278.5L1147.4 279.6L1146.6 280.7L1145.9 281.8L1145.1 282.9L1144.3 284.0L1143.5 285.2L1142.7 286.4L1141.8 287.7L1140.9 289.0L1140.0 290.3L1139.1 291.6L1138.2 292.9L1137.3 294.3L1136.3 295.7L1135.3 297.0L1134.3 298.4L1133.3 299.8L1132.2 301.3L1131.2 302.7L1130.1 304.2L1129.0 305.7L1127.9 307.2L1126.7 308.6L1125.6 310.1L1124.4 311.5L1123.2 312.9L1122.0 314.3L1120.8 315.7L1119.5 317.0L1118.3 318.4L1117.0 319.8L1115.7 321.1L1114.4 322.4L1113.0 323.6L1111.7 324.8L1110.3 325.9L1108.9 327.0L1107.5 328.1L1106.1 329.2L1104.6 330.4L1103.2 331.6L1101.7 332.9L1100.2 334.2L1098.7 335.4L1097.2 336.6L1095.6 337.8L1094.1 338.8L1092.5 339.8L1090.9 340.8L1089.3 341.8L1087.7 342.9L1086.0 344.0L1084.4 345.2L1082.7 346.4L1081.0 347.5L1079.3 348.5L1077.6 349.4L1075.8 350.2L1074.1 351.0L1072.3 351.8L1070.5 352.7L1068.7 353.6L1066.9 354.6L1065.1 355.6L1063.2 356.6L1061.4 357.4L1059.5 358.1L1057.6 358.8L1055.7 359.4L1053.8 360.1L1051.8 360.9L1049.9 361.7L1047.9 362.5L1046.0 363.3L1044.0 364.0L1042.0 364.6L1039.9 365.1L1037.9 365.6L1035.9 366.2L1033.8 366.8L1031.7 367.6L1029.6 368.3L1027.5 368.9L1025.4 369.4L1023.3 369.8L1021.2 370.2L1019.0 370.7L1016.9 371.3L1014.7 371.9L1012.5 372.5L1010.3 373.1L1008.1 373.6L1005.9 373.9L1003.6 374.3L1001.4 374.7L999.1 375.2L996.9 375.8L994.6 376.4L992.3 376.9L990.0 377.3L987.7 377.5L985.4 377.8L983.0 378.1L980.7 378.6L978.3 379.2L976.0 379.7L973.6 380.0L971.2 380.2L968.8 380.3L966.4 380.5L964.0 381.0L961.6 381.6L959.2 382.2L956.7 382.6L954.3 382.8L951.8 383.0L949.3 383.3L946.9 383.9L944.4 384.7L941.9 385.5L939.4 386.1L936.9 386.4L934.4 386.7L931.8 387.1L929.3 387.8L926.8 388.8L924.2 389.7L921.7 390.4L919.1 390.7L916.5 391.0L914.0 391.6L911.4 392.4L908.8 393.5L906.2 394.4L903.6 394.9L901.0 395.2L898.4 395.5L895.8 396.1L893.2 397.1L890.5 398.1L887.9 398.9L885.3 399.3L882.6 399.6L880.0 400.0L877.3 400.8L874.7 401.8L872.0 402.8L869.4 403.4L866.7 403.8L864.0 404.1L861.3 404.7L858.7 405.6L856.0 406.6L853.3 407.4L850.6 407.9L847.9 408.3L845.2 408.7L842.5 409.5L839.8 410.4L837.1 411.3L834.4 411.9L831.7 412.3L829.0 412.7L826.3 413.3L823.6 414.1L820.9 415.0L818.1 415.7L815.4 416.2L812.7 416.6L810.0 417.1L807.3 417.8L804.5 418.6L801.8 419.3L799.1 419.9L796.4 420.3L793.7 420.8L791.0 421.4L788.2 422.2L785.5 422.9L782.8 423.5L780.1 424.0L777.4 424.4L774.6 425.0L771.9 425.7L769.2 426.5L766.5 427.1L763.8 427.7L761.1 428.1L758.4 428.6L755.7 429.2L753.0 430.0L750.3 430.7L747.6 431.3L744.9 431.8L742.2 432.2L739.5 432.8L736.8 433.5L734.2 434.3L731.5 435.0L728.8 435.5L726.1 435.9L723.5 436.3L720.8 437.0L718.2 437.8L715.5 438.5L712.9 439.1L710.2 439.5L707.6 439.8L705.0 440.3L702.3 441.0L699.7 441.8L697.1 442.5L694.5 443.0L691.9 443.2L689.3 443.5L686.7 444.0L684.1 444.7L681.5 445.6L679.0 446.2L676.4 446.5L673.8 446.6L671.3 446.9L668.7 447.5L666.2 448.3L663.7 449.1L661.1 449.6L658.6 449.9L656.1 450.0L653.6 450.3L651.1 450.9L648.6 451.7L646.2 452.5L643.7 453.0L641.2 453.3L638.8 453.4L636.3 453.7L633.9 454.2L631.5 455.0L629.1 455.8L626.7 456.4L624.3 456.7L621.9 456.8L619.5 457.0L617.2 457.5L614.8 458.2L612.5 459.0L610.1 459.6L607.8 460.0L605.5 460.1L603.2 460.3L600.9 460.7L598.6 461.2L596.4 461.9L594.1 462.6L591.9 463.0L589.6 463.3L587.4 463.4L585.2 463.6L583.0 463.9L580.8 464.4L578.6 465.1L576.5 465.7L574.3 466.1L572.2 466.4L570.1 466.6L568.0 466.9L565.9 467.3L563.8 467.9L561.7 468.6L559.6 469.3L557.6 469.9L555.6 470.5L553.5 471.1L551.5 471.7L549.5 472.4L547.6 473.2L545.6 474.1L543.7 475.1L541.7 476.0L539.8 476.8L537.9 477.5L536.0 478.1L534.1 478.7L532.3 479.4L530.4 480.1L528.6 480.8L526.8 481.7L525.0 482.5L523.2 483.2L521.4 483.8L519.7 484.4L517.9 485.0L516.2 485.5L514.5 486.1L512.8 486.8L511.1 487.5L509.5 488.2L507.8 488.9L506.2 489.6L504.6 490.2L503.0 490.8L501.4 491.3L499.9 491.8L498.3 492.3L496.8 492.9L495.3 493.5L493.8 494.1L492.3 494.7L490.9 495.4L489.4 496.0L488.0 496.5L486.6 497.0L485.2 497.5L483.8 498.0L482.5 498.5L481.1 498.9L479.8 499.4L478.5 499.9L477.2 500.4L476.0 500.9L474.7 501.4L473.5 501.8L472.3 502.3L471.1 502.7L469.9 503.1L468.8 503.5L467.6 503.8L466.5 504.2L465.4 504.5L464.3 504.8L463.3 505.2L462.2 505.5L461.2 505.8L460.2 506.2L459.2 506.5L458.2 506.8L457.3 507.1L456.4 507.4L455.5 507.6L454.6 507.9L453.7 508.1L452.8 508.3L452.0 508.6L451.2 508.7L450.4 508.9L449.6 509.1L448.9 509.3L448.1 509.4L447.4 509.6L446.7 509.8L446.0 509.9L445.4 510.1L444.8 510.2L444.1 510.3L443.5 510.4L443.0 510.6L442.4 510.7L441.9 510.8L441.4 510.9L440.9 511.0L440.4 511.1L439.9 511.2L439.5 511.2L439.1 511.3L438.7 511.4L438.3 511.5L437.9 511.5L437.6 511.6L437.3 511.6L437.0 511.7L436.7 511.7L436.5 511.8L436.2 511.8L436.0 511.8L435.8 511.9L435.7 511.9L435.5 511.9L435.4 511.9L435.3 512.0L435.2 512.0L435.1 512.0L435.0 512.0L435.0 512.0L435.0 512.0Z" stroke="#3a3ae6"/>
<path d="M435.0 536.0L435.0 536.0L435.0 535.8L435.1 535.6L435.2 535.3L435.3 534.9L435.4 534.5L435.5 533.9L435.7 533.2L435.8 532.3L436.0 531.4L436.2 530.3L436.5 529.1L436.7 527.7L437.0 526.1L437.3 524.2L437.6 522.0L437.9 519.7L438.3 517.4L438.7 515.1L439.1 512.7L439.5 510.2L439.9 507.7L440.4 505.1L440.9 502.7L441.4 500.3L441.9 498.2L442.4 496.2L443.0 494.3L443.5 492.5L444.1 490.6L444.8 488.8L445.4 487.0L446.0 485.2L446.7 483.4L447.4 481.7L448.1 480.0L448.9 478.3L449.6 476.7L450.4 475.1L451.2 473.7L452.0 472.4L452.8 471.0L453.7 469.6L454.6 468.0L455.5 466.3L456.4 464.4L457.3 462.5L458.2 460.6L459.2 458.8L460.2 457.1L461.2 455.4L462.2 453.8L463.3 452.3L464.3 450.8L465.4 449.4L466.5 448.0L467.6 446.7L468.8 445.4L469.9 444.1L471.1 442.9L472.3 441.7L473.5 440.4L474.7 439.2L476.0 437.9L477.2 436.6L478.5 435.2L479.8 433.9L481.1 432.6L482.5 431.2L483.8 429.9L485.2 428.5L486.6 427.2L488.0 425.8L489.4 424.4L490.9 423.0L492.3 421.5L493.8 420.0L495.3 418.5L496.8 416.8L498.3 415.2L499.9 413.6L501.4 412.0L503.0 410.5L504.6 408.9L506.2 407.4L507.8 405.9L509.5 404.6L511.1 403.3L512.8 402.1L514.5 401.0L516.2 400.0L517.9 399.0L519.7 398.0L521.4 397.0L523.2 396.1L525.0 395.1L526.8 394.1L528.6 393.1L530.4 392.1L532.3 391.0L534.1 390.1L536.0 389.1L537.9 388.4L539.8 387.7L541.7 387.0L543.7 386.4L545.6 385.7L547.6 385.0L549.5 384.2L551.5 383.5L553.5 382.9L555.6 382.3L557.6 381.7L559.6 380.8L561.7 379.8L563.8 378.5L565.9 377.1L568.0 375.6L570.1 374.3L572.2 373.1L574.3 371.8L576.5 370.6L578.6 369.4L580.8 368.2L583.0 367.0L585.2 365.9L587.4 364.9L589.6 364.0L591.9 363.2L594.1 362.5L596.4 361.7L598.6 360.8L600.9 359.8L603.2 358.8L605.5 358.0L607.8 357.4L610.1 356.8L612.5 356.2L614.8 355.5L617.2 354.7L619.5 353.8L621.9 353.1L624.3 352.5L626.7 352.1L629.1 351.6L631.5 351.0L633.9 350.2L636.3 349.3L638.8 348.4L641.2 347.6L643.7 346.9L646.2 346.2L648.6 345.3L651.1 344.2L653.6 343.0L656.1 341.8L658.6 340.8L661.1 339.9L663.7 339.0L666.2 338.0L668.7 336.7L671.3 335.4L673.8 334.1L676.4 333.0L679.0 332.1L681.5 331.0L684.1 329.9L686.7 328.5L689.3 327.2L691.9 325.9L694.5 324.9L697.1 323.9L699.7 322.8L702.3 321.6L705.0 320.3L707.6 319.0L710.2 317.8L712.9 316.7L715.5 315.7L718.2 314.5L720.8 313.2L723.5 311.9L726.1 310.7L728.8 309.5L731.5 308.5L734.2 307.5L736.8 306.3L739.5 305.1L742.2 303.7L744.9 302.5L747.6 301.3L750.3 300.2L753.0 298.9L755.7 297.6L758.4 296.2L761.1 294.9L763.8 293.7L766.5 292.5L769.2 291.4L771.9 290.2L774.6 289.0L777.4 287.9L780.1 286.8L782.8 286.0L785.5 285.2L788.2 284.4L791.0 283.6L793.7 282.9L796.4 282.3L799.1 281.9L801.8 281.7L804.5 281.4L807.3 281.0L810.0 280.5L812.7 280.1L815.4 279.8L818.1 279.6L820.9 279.4L823.6 279.1L826.3 278.7L829.0 278.3L831.7 278.0L834.4 277.9L837.1 277.9L839.8 277.7L842.5 277.4L845.2 277.1L847.9 276.8L850.6 276.8L853.3 276.8L856.0 276.9L858.7 276.8L861.3 276.5L864.0 276.3L866.7 276.2L869.4 276.4L872.0 276.5L874.7 276.6L877.3 276.4L880.0 276.2L882.6 276.0L885.3 276.0L887.9 276.2L890.5 276.4L893.2 276.3L895.8 276.1L898.4 275.9L901.0 275.8L903.6 275.9L906.2 276.2L908.8 276.3L911.4 276.2L914.0 276.0L916.5 275.8L919.1 275.8L921.7 276.0L924.2 276.2L926.8 276.2L929.3 276.1L931.8 275.9L934.4 275.8L936.9 275.8L939.4 276.0L941.9 276.2L944.4 276.2L946.9 276.1L949.3 275.9L951.8 275.7L954.3 275.7L956.7 275.7L959.2 275.8L961.6 275.7L964.0 275.6L966.4 275.5L968.8 275.6L971.2 276.0L973.6 276.5L976.0 277.1L978.3 277.5L980.7 277.7L983.0 277.7L985.4 277.7L987.7 277.8L990.0 278.0L992.3 278.2L994.6 278.4L996.9 278.5L999.1 278.5L1001.4 278.5L1003.6 278.6L1005.9 278.7L1008.1 278.8L1010.3 279.0L1012.5 279.2L1014.7 279.3L1016.9 279.3L1019.0 279.3L1021.2 279.3L1023.3 279.3L1025.4 279.5L1027.5 279.6L1029.6 279.7L1031.7 279.8L1033.8 279.8L1035.9 279.7L1037.9 279.7L1039.9 279.7L1042.0 279.8L1044.0 279.9L1046.0 280.0L1047.9 280.1L1049.9 280.1L1051.8 280.1L1053.8 280.0L1055.7 280.0L1057.6 280.0L1059.5 280.1L1061.4 280.2L1063.2 280.3L1065.1 280.4L1066.9 280.4L1068.7 280.4L1070.5 280.2L1072.3 279.9L1074.1 279.4L1075.8 278.8L1077.6 278.2L1079.3 277.6L1081.0 276.9L1082.7 276.2L1084.4 275.5L1086.0 274.9L1087.7 274.3L1089.3 274.0L1090.9 273.8L1092.5 273.7L1094.1 273.7L1095.6 273.7L1097.2 273.8L1098.7 273.7L1100.2 273.6L1101.7 273.4L1103.2 273.1L1104.6 272.7L1106.1 272.4L1107.5 272.0L1108.9 271.7L1110.3 271.3L1111.7 270.9L1113.0 270.6L1114.4 270.2L1115.7 269.8L1117.0 269.3L1118.3 268.8L1119.5 268.2L1120.8 267.6L1122.0 267.0L1123.2 266.3L1124.4 265.7L1125.6 265.0L1126.7 264.4L1127.9 263.7L1129.0 263.1L1130.1 262.4L1131.2 261.8L1132.2 261.1L1133.3 260.4L1134.3 259.7L1135.3 258.9L1136.3 258.2L1137.3 257.4L1138.2 256.7L1139.1 255.9L1140.0 255.2L1140.9 254.4L1141.8 253.7L1142.7 252.9L1143.5 252.2L1144.3 251.4L1145.1 250.7L1145.9 250.0L1146.6 249.3L1147.4 248.6L1148.1 247.9L1148.8 247.2L1149.5 246.5L1150.1 245.8L1150.7 245.2L1151.4 244.5L1152.0 243.9L1152.5 243.3L1153.1 242.7L1153.6 242.1L1154.1 241.5L1154.6 240.9L1155.1 240.4L1155.6 239.9L1156.0 239.4L1156.4 238.9L1156.8 238.4L1157.2 238.0L1157.6 237.6L1157.9 237.2L1158.2 236.8L1158.5 236.4L1158.8 236.1L1159.0 235.8L1159.3 235.5L1159.5 235.3L1159.7 235.0L1159.8 234.8L1160.0 234.6L1160.1 234.5L1160.2 234.3L1160.3 234.2L1160.4 234.1L1160.5 234.1L1160.5 234.0L1160.5 234.0L1160.5 234.0L1160.5 234.0L1160.5 234.1L1160.4 234.2L1160.3 234.4L1160.2 234.6L1160.1 234.8L1160.0 235.1L1159.8 235.5L1159.7 235.9L1159.5 236.3L1159.3 236.8L1159.0 237.3L1158.8 237.9L1158.5 238.5L1158.2 239.2L1157.9 239.9L1157.6 240.7L1157.2 241.5L1156.8 242.3L1156.4 243.2L1156.0 244.1L1155.6 245.0L1155.1 246.0L1154.6 247.1L1154.1 248.2L1153.6 249.3L1153.1 250.4L1152.5 251.6L1152.0 252.8L1151.4 254.0L1150.7 255.2L1150.1 256.5L1149.5 257.7L1148.8 259.0L1148.1 260.3L1147.4 261.6L1146.6 262.8L1145.9 264.1L1145.1 265.4L1144.3 266.7L1143.5 268.1L1142.7 269.5L1141.8 270.9L1140.9 272.3L1140.0 273.8L1139.1 275.2L1138.2 276.7L1137.3 278.2L1136.3 279.7L1135.3 281.2L1134.3 282.8L1133.3 284.3L1132.2 286.0L1131.2 287.7L1130.1 289.5L1129.0 291.3L1127.9 293.2L1126.7 295.0L1125.6 296.8L1124.4 298.6L1123.2 300.2L1122.0 301.9L1120.8 303.5L1119.5 305.1L1118.3 306.7L1117.0 308.2L1115.7 309.8L1114.4 311.3L1113.0 312.7L1111.7 314.1L1110.3 315.5L1108.9 316.9L1107.5 318.3L1106.1 319.6L1104.6 321.0L1103.2 322.4L1101.7 323.8L1100.2 325.3L1098.7 326.7L1097.2 328.0L1095.6 329.4L1094.1 330.7L1092.5 332.0L1090.9 333.3L1089.3 334.6L1087.7 335.9L1086.0 337.2L1084.4 338.5L1082.7 339.8L1081.0 341.0L1079.3 342.2L1077.6 343.3L1075.8 344.3L1074.1 345.4L1072.3 346.4L1070.5 347.5L1068.7 348.5L1066.9 349.6L1065.1 350.7L1063.2 351.8L1061.4 352.7L1059.5 353.7L1057.6 354.5L1055.7 355.4L1053.8 356.2L1051.8 357.1L1049.9 358.0L1047.9 358.9L1046.0 359.7L1044.0 360.5L1042.0 361.2L1039.9 361.9L1037.9 362.6L1035.9 363.4L1033.8 364.1L1031.7 364.9L1029.6 365.6L1027.5 366.3L1025.4 367.0L1023.3 367.6L1021.2 368.1L1019.0 368.7L1016.9 369.4L1014.7 370.1L1012.5 370.7L1010.3 371.4L1008.1 372.0L1005.9 372.5L1003.6 373.0L1001.4 373.6L999.1 374.2L996.9 374.9L994.6 375.5L992.3 376.1L990.0 376.6L987.7 377.1L985.4 377.5L983.0 378.0L980.7 378.5L978.3 379.1L976.0 379.6L973.6 380.0L971.2 380.4L968.8 380.7L966.4 381.1L964.0 381.6L961.6 382.1L959.2 382.7L956.7 383.2L954.3 383.6L951.8 384.0L949.3 384.5L946.9 385.1L944.4 385.8L941.9 386.6L939.4 387.2L936.9 387.8L934.4 388.3L931.8 388.9L929.3 389.7L926.8 390.5L924.2 391.3L921.7 392.0L919.1 392.6L916.5 393.2L914.0 393.9L911.4 394.7L908.8 395.6L906.2 396.4L903.6 397.1L901.0 397.7L898.4 398.3L895.8 399.0L893.2 399.8L890.5 400.7L887.9 401.5L885.3 402.2L882.6 402.7L880.0 403.4L877.3 404.2L874.7 405.1L872.0 405.9L869.4 406.7L866.7 407.3L864.0 407.9L861.3 408.6L858.7 409.5L856.0 410.4L853.3 411.2L850.6 411.9L847.9 412.5L845.2 413.2L842.5 413.9L839.8 414.8L837.1 415.6L834.4 416.3L831.7 417.0L829.0 417.6L826.3 418.3L823.6 419.1L820.9 419.9L818.1 420.6L815.4 421.3L812.7 421.9L810.0 422.5L807.3 423.2L804.5 424.0L801.8 424.8L799.1 425.4L796.4 426.0L793.7 426.7L791.0 427.4L788.2 428.1L785.5 428.9L782.8 429.5L780.1 430.2L777.4 430.8L774.6 431.4L771.9 432.2L769.2 432.9L766.5 433.6L763.8 434.3L761.1 434.9L758.4 435.5L755.7 436.2L753.0 437.0L750.3 437.7L747.6 438.4L744.9 439.1L742.2 439.7L739.5 440.3L736.8 441.1L734.2 441.9L731.5 442.6L728.8 443.2L726.1 443.8L723.5 444.4L720.8 445.1L718.2 445.9L715.5 446.6L712.9 447.3L710.2 447.8L707.6 448.4L705.0 449.0L702.3 449.7L699.7 450.4L697.1 451.1L694.5 451.7L691.9 452.2L689.3 452.7L686.7 453.3L684.1 454.0L681.5 454.7L679.0 455.3L676.4 455.8L673.8 456.2L671.3 456.7L668.7 457.3L666.2 458.0L663.7 458.7L661.1 459.3L658.6 459.7L656.1 460.1L653.6 460.6L651.1 461.2L648.6 461.9L646.2 462.6L643.7 463.2L641.2 463.6L638.8 464.0L636.3 464.5L633.9 465.1L631.5 465.8L629.1 466.5L626.7 467.0L624.3 467.5L621.9 467.9L619.5 468.3L617.2 468.9L614.8 469.5L612.5 470.2L610.1 470.8L607.8 471.3L605.5 471.7L603.2 472.1L600.9 472.5L598.6 473.1L596.4 473.7L594.1 474.3L591.9 474.8L589.6 475.2L587.4 475.6L585.2 475.9L583.0 476.4L580.8 476.9L578.6 477.5L576.5 478.0L574.3 478.5L572.2 478.9L570.1 479.3L568.0 479.8L565.9 480.3L563.8 480.9L561.7 481.5L559.6 482.2L557.6 482.8L555.6 483.5L553.5 484.1L551.5 484.8L549.5 485.5L547.6 486.2L545.6 487.1L543.7 487.9L541.7 488.8L539.8 489.6L537.9 490.3L536.0 491.0L534.1 491.8L532.3 492.5L530.4 493.3L528.6 494.2L526.8 495.0L525.0 495.9L523.2 496.7L521.4 497.5L519.7 498.3L517.9 499.1L516.2 499.9L514.5 500.7L512.8 501.6L511.1 502.4L509.5 503.3L507.8 504.2L506.2 505.1L504.6 506.0L503.0 506.8L501.4 507.7L499.9 508.5L498.3 509.3L496.8 510.1L495.3 511.0L493.8 511.8L492.3 512.6L490.9 513.5L489.4 514.3L488.0 515.2L486.6 516.0L485.2 516.8L483.8 517.6L482.5 518.4L481.1 519.2L479.8 519.9L478.5 520.6L477.2 521.3L476.0 521.9L474.7 522.6L473.5 523.1L472.3 523.7L471.1 524.1L469.9 524.6L468.8 525.0L467.6 525.4L466.5 525.8L465.4 526.1L464.3 526.5L463.3 526.8L462.2 527.2L461.2 527.5L460.2 527.8L459.2 528.1L458.2 528.4L457.3 528.7L456.4 529.0L455.5 529.3L454.6 529.6L453.7 529.8L452.8 530.1L452.0 530.4L451.2 530.6L450.4 530.9L449.6 531.2L448.9 531.4L448.1 531.6L447.4 531.9L446.7 532.1L446.0 532.3L445.4 532.6L444.8 532.8L444.1 533.0L443.5 533.2L443.0 533.4L442.4 533.5L441.9 533.7L441.4 533.9L440.9 534.1L440.4 534.2L439.9 534.4L439.5 534.5L439.1 534.7L438.7 534.8L438.3 534.9L437.9 535.0L437.6 535.1L437.3 535.2L437.0 535.3L436.7 535.4L436.5 535.5L436.2 535.6L436.0 535.7L435.8 535.7L435.7 535.8L435.5 535.8L435.4 535.9L435.3 535.9L435.2 535.9L435.1 536.0L435.0 536.0L435.0 536.0L435.0 536.0Z" stroke="#ff38f6"/>
<path d="M435.0 560.0L435.0 560.0L435.0 559.8L435.1 559.6L435.2 559.2L435.3 558.8L435.4 558.3L435.5 557.6L435.7 556.8L435.8 555.8L436.0 554.8L436.2 553.5L436.5 552.1L436.7 550.5L437.0 548.6L437.3 546.4L437.6 543.9L437.9 541.3L438.3 538.5L438.7 535.7L439.1 532.7L439.5 529.5L439.9 526.2L440.4 522.9L440.9 519.7L441.4 516.7L441.9 514.0L442.4 511.4L443.0 509.0L443.5 506.6L444.1 504.2L444.8 501.9L445.4 499.7L446.0 497.5L446.7 495.3L447.4 493.1L448.1 491.0L448.9 488.8L449.6 486.8L450.4 484.9L451.2 483.1L452.0 481.4L452.8 479.7L453.7 478.0L454.6 476.3L455.5 474.5L456.4 472.8L457.3 471.0L458.2 469.2L459.2 467.3L460.2 465.2L461.2 463.1L462.2 461.0L463.3 459.0L464.3 457.2L465.4 455.4L466.5 453.7L467.6 452.1L468.8 450.6L469.9 449.1L471.1 447.7L472.3 446.3L473.5 444.9L474.7 443.6L476.0 442.3L477.2 440.9L478.5 439.5L479.8 438.1L481.1 436.7L482.5 435.3L483.8 433.9L485.2 432.5L486.6 431.1L488.0 429.7L489.4 428.3L490.9 426.8L492.3 425.3L493.8 423.7L495.3 422.1L496.8 420.5L498.3 418.9L499.9 417.2L501.4 415.6L503.0 414.0L504.6 412.3L506.2 410.6L507.8 408.9L509.5 407.2L511.1 405.6L512.8 403.9L514.5 402.2L516.2 400.6L517.9 399.2L519.7 398.0L521.4 396.9L523.2 395.9L525.0 395.0L526.8 394.1L528.6 393.1L530.4 392.1L532.3 391.0L534.1 390.1L536.0 389.2L537.9 388.4L539.8 387.6L541.7 387.0L543.7 386.3L545.6 385.5L547.6 384.7L549.5 383.8L551.5 382.9L553.5 382.0L555.6 381.2L557.6 380.4L559.6 379.4L561.7 378.2L563.8 376.7L565.9 375.1L568.0 373.5L570.1 372.0L572.2 370.6L574.3 369.2L576.5 367.9L578.6 366.6L580.8 365.2L583.0 363.8L585.2 362.5L587.4 361.3L589.6 360.3L591.9 359.4L594.1 358.5L596.4 357.6L598.6 356.5L600.9 355.3L603.2 354.2L605.5 353.2L607.8 352.5L610.1 351.8L612.5 351.1L614.8 350.3L617.2 349.3L619.5 348.3L621.9 347.4L624.3 346.7L626.7 346.2L629.1 345.6L631.5 344.9L633.9 344.0L636.3 342.9L638.8 341.8L641.2 340.9L643.7 340.2L646.2 339.4L648.6 338.4L651.1 337.2L653.6 335.8L656.1 334.5L658.6 333.5L661.1 332.6L663.7 331.6L666.2 330.5L668.7 329.2L671.3 327.7L673.8 326.4L676.4 325.2L679.0 324.2L681.5 323.2L684.1 322.0L686.7 320.5L689.3 319.1L691.9 317.7L694.5 316.6L697.1 315.5L699.7 314.4L702.3 313.0L705.0 311.5L707.6 310.1L710.2 308.7L712.9 307.5L715.5 306.3L718.2 305.0L720.8 303.6L723.5 302.1L726.1 300.6L728.8 299.4L731.5 298.2L734.2 297.0L736.8 295.7L739.5 294.3L742.2 292.8L744.9 291.4L747.6 290.2L750.3 288.9L753.0 287.5L755.7 286.0L758.4 284.4L761.1 283.0L763.8 281.6L766.5 280.4L769.2 279.1L771.9 277.8L774.6 276.4L777.4 275.1L780.1 273.9L782.8 272.9L785.5 272.0L788.2 271.1L791.0 270.1L793.7 269.2L796.4 268.4L799.1 267.9L801.8 267.5L804.5 267.1L807.3 266.5L810.0 265.8L812.7 265.3L815.4 264.8L818.1 264.6L820.9 264.3L823.6 263.9L826.3 263.3L829.0 262.8L831.7 262.4L834.4 262.2L837.1 262.0L839.8 261.8L842.5 261.4L845.2 260.9L847.9 260.5L850.6 260.3L853.3 260.3L856.0 260.3L858.7 260.0L861.3 259.6L864.0 259.2L866.7 259.0L869.4 259.0L872.0 259.1L874.7 259.0L877.3 258.7L880.0 258.2L882.6 257.9L885.3 257.8L887.9 257.9L890.5 258.0L893.2 257.8L895.8 257.5L898.4 257.1L901.0 256.9L903.6 257.0L906.2 257.2L908.8 257.2L911.4 257.1L914.0 256.8L916.5 256.6L919.1 256.5L921.7 256.7L924.2 257.0L926.8 257.1L929.3 257.0L931.8 256.7L934.4 256.5L936.9 256.6L939.4 256.8L941.9 257.0L944.4 257.1L946.9 256.9L949.3 256.7L951.8 256.5L954.3 256.5L956.7 256.6L959.2 256.7L961.6 256.8L964.0 256.6L966.4 256.5L968.8 256.5L971.2 256.7L973.6 257.1L976.0 257.6L978.3 258.0L980.7 258.2L983.0 258.3L985.4 258.4L987.7 258.6L990.0 258.9L992.3 259.3L994.6 259.6L996.9 259.8L999.1 260.0L1001.4 260.1L1003.6 260.2L1005.9 260.5L1008.1 260.8L1010.3 261.2L1012.5 261.5L1014.7 261.7L1016.9 261.9L1019.0 262.0L1021.2 262.1L1023.3 262.3L1025.4 262.5L1027.5 262.7L1029.6 262.9L1031.7 263.0L1033.8 263.1L1035.9 263.1L1037.9 263.1L1039.9 263.1L1042.0 263.3L1044.0 263.4L1046.0 263.6L1047.9 263.6L1049.9 263.6L1051.8 263.5L1053.8 263.4L1055.7 263.3L1057.6 263.2L1059.5 263.1L1061.4 263.1L1063.2 263.1L1065.1 263.0L1066.9 262.9L1068.7 262.6L1070.5 262.4L1072.3 261.9L1074.1 261.4L1075.8 260.8L1077.6 260.3L1079.3 259.7L1081.0 259.1L1082.7 258.5L1084.4 257.8L1086.0 257.2L1087.7 256.5L1089.3 256.0L1090.9 255.7L1092.5 255.4L1094.1 255.3L1095.6 255.2L1097.2 255.1L1098.7 254.9L1100.2 254.6L1101.7 254.1L1103.2 253.6L1104.6 253.0L1106.1 252.3L1107.5 251.7L1108.9 251.1L1110.3 250.5L1111.7 249.9L1113.0 249.4L1114.4 248.8L1115.7 248.2L1117.0 247.5L1118.3 246.8L1119.5 246.0L1120.8 245.3L1122.0 244.5L1123.2 243.7L1124.4 242.9L1125.6 242.1L1126.7 241.3L1127.9 240.5L1129.0 239.8L1130.1 239.0L1131.2 238.3L1132.2 237.5L1133.3 236.8L1134.3 236.0L1135.3 235.2L1136.3 234.4L1137.3 233.7L1138.2 232.9L1139.1 232.1L1140.0 231.3L1140.9 230.5L1141.8 229.8L1142.7 229.0L1143.5 228.3L1144.3 227.6L1145.1 226.9L1145.9 226.2L1146.6 225.5L1147.4 224.9L1148.1 224.2L1148.8 223.6L1149.5 222.9L1150.1 222.3L1150.7 221.7L1151.4 221.1L1152.0 220.5L1152.5 219.9L1153.1 219.4L1153.6 218.9L1154.1 218.4L1154.6 217.9L1155.1 217.4L1155.6 216.9L1156.0 216.5L1156.4 216.1L1156.8 215.6L1157.2 215.3L1157.6 214.9L1157.9 214.5L1158.2 214.2L1158.5 213.9L1158.8 213.6L1159.0 213.4L1159.3 213.1L1159.5 212.9L1159.7 212.7L1159.8 212.5L1160.0 212.3L1160.1 212.2L1160.2 212.1L1160.3 212.0L1160.4 211.9L1160.5 211.8L1160.5 211.8L1160.5 211.8L1160.5 211.8L1160.5 211.8L1160.5 211.9L1160.4 212.1L1160.3 212.3L1160.2 212.5L1160.1 212.8L1160.0 213.2L1159.8 213.6L1159.7 214.1L1159.5 214.6L1159.3 215.2L1159.0 215.8L1158.8 216.5L1158.5 217.3L1158.2 218.1L1157.9 218.9L1157.6 219.8L1157.2 220.8L1156.8 221.8L1156.4 222.8L1156.0 223.9L1155.6 225.1L1155.1 226.3L1154.6 227.5L1154.1 228.8L1153.6 230.1L1153.1 231.5L1152.5 232.9L1152.0 234.3L1151.4 235.7L1150.7 237.1L1150.1 238.6L1149.5 240.0L1148.8 241.5L1148.1 243.0L1147.4 244.5L1146.6 245.9L1145.9 247.4L1145.1 248.8L1144.3 250.3L1143.5 251.8L1142.7 253.4L1141.8 254.9L1140.9 256.5L1140.0 258.1L1139.1 259.7L1138.2 261.3L1137.3 262.9L1136.3 264.5L1135.3 266.2L1134.3 268.0L1133.3 269.7L1132.2 271.6L1131.2 273.5L1130.1 275.6L1129.0 277.8L1127.9 279.9L1126.7 282.0L1125.6 284.1L1124.4 286.2L1123.2 288.1L1122.0 290.0L1120.8 291.9L1119.5 293.7L1118.3 295.5L1117.0 297.3L1115.7 299.1L1114.4 300.8L1113.0 302.5L1111.7 304.1L1110.3 305.7L1108.9 307.3L1107.5 308.9L1106.1 310.4L1104.6 312.0L1103.2 313.6L1101.7 315.3L1100.2 316.9L1098.7 318.5L1097.2 320.1L1095.6 321.6L1094.1 323.2L1092.5 324.6L1090.9 326.1L1089.3 327.6L1087.7 329.0L1086.0 330.6L1084.4 332.1L1082.7 333.5L1081.0 335.0L1079.3 336.3L1077.6 337.6L1075.8 338.8L1074.1 339.9L1072.3 341.1L1070.5 342.4L1068.7 343.6L1066.9 344.9L1065.1 346.1L1063.2 347.3L1061.4 348.4L1059.5 349.5L1057.6 350.5L1055.7 351.5L1053.8 352.4L1051.8 353.5L1049.9 354.5L1047.9 355.5L1046.0 356.4L1044.0 357.3L1042.0 358.2L1039.9 359.0L1037.9 359.8L1035.9 360.6L1033.8 361.4L1031.7 362.3L1029.6 363.2L1027.5 364.0L1025.4 364.7L1023.3 365.4L1021.2 366.1L1019.0 366.8L1016.9 367.5L1014.7 368.3L1012.5 369.1L1010.3 369.8L1008.1 370.5L1005.9 371.2L1003.6 371.8L1001.4 372.4L999.1 373.2L996.9 373.9L994.6 374.7L992.3 375.4L990.0 376.0L987.7 376.6L985.4 377.1L983.0 377.7L980.7 378.4L978.3 379.1L976.0 379.7L973.6 380.3L971.2 380.8L968.8 381.2L966.4 381.7L964.0 382.3L961.6 383.1L959.2 383.8L956.7 384.4L954.3 384.9L951.8 385.4L949.3 386.0L946.9 386.8L944.4 387.6L941.9 388.5L939.4 389.2L936.9 389.9L934.4 390.5L931.8 391.2L929.3 392.0L926.8 393.0L924.2 394.0L921.7 394.8L919.1 395.5L916.5 396.1L914.0 396.9L911.4 397.8L908.8 398.8L906.2 399.8L903.6 400.5L901.0 401.2L898.4 401.8L895.8 402.6L893.2 403.6L890.5 404.6L887.9 405.4L885.3 406.2L882.6 406.8L880.0 407.5L877.3 408.4L874.7 409.4L872.0 410.3L869.4 411.1L866.7 411.8L864.0 412.5L861.3 413.3L858.7 414.2L856.0 415.2L853.3 416.1L850.6 416.8L847.9 417.5L845.2 418.2L842.5 419.1L839.8 420.0L837.1 420.9L834.4 421.7L831.7 422.4L829.0 423.1L826.3 423.9L823.6 424.8L820.9 425.7L818.1 426.5L815.4 427.2L812.7 427.9L810.0 428.6L807.3 429.4L804.5 430.3L801.8 431.1L799.1 431.9L796.4 432.5L793.7 433.2L791.0 434.0L788.2 434.9L785.5 435.7L782.8 436.5L780.1 437.2L777.4 437.8L774.6 438.6L771.9 439.4L769.2 440.2L766.5 441.1L763.8 441.8L761.1 442.5L758.4 443.2L755.7 444.0L753.0 444.8L750.3 445.6L747.6 446.4L744.9 447.1L742.2 447.8L739.5 448.5L736.8 449.4L734.2 450.2L731.5 451.1L728.8 451.8L726.1 452.4L723.5 453.1L720.8 453.9L718.2 454.7L715.5 455.6L712.9 456.3L710.2 456.9L707.6 457.5L705.0 458.2L702.3 459.0L699.7 459.9L697.1 460.6L694.5 461.3L691.9 461.8L689.3 462.4L686.7 463.0L684.1 463.8L681.5 464.6L679.0 465.4L676.4 465.9L673.8 466.4L671.3 466.9L668.7 467.6L666.2 468.4L663.7 469.2L661.1 469.9L658.6 470.4L656.1 470.8L653.6 471.4L651.1 472.1L648.6 472.9L646.2 473.7L643.7 474.3L641.2 474.8L638.8 475.3L636.3 475.8L633.9 476.5L631.5 477.2L629.1 478.0L626.7 478.7L624.3 479.2L621.9 479.6L619.5 480.1L617.2 480.7L614.8 481.5L612.5 482.2L610.1 482.9L607.8 483.5L605.5 483.9L603.2 484.3L600.9 484.9L598.6 485.5L596.4 486.2L594.1 486.9L591.9 487.5L589.6 487.9L587.4 488.3L585.2 488.7L583.0 489.2L580.8 489.8L578.6 490.4L576.5 491.0L574.3 491.6L572.2 492.1L570.1 492.5L568.0 493.0L565.9 493.6L563.8 494.2L561.7 495.0L559.6 495.7L557.6 496.5L555.6 497.2L553.5 497.9L551.5 498.6L549.5 499.4L547.6 500.3L545.6 501.2L543.7 502.2L541.7 503.2L539.8 504.1L537.9 505.0L536.0 505.8L534.1 506.6L532.3 507.5L530.4 508.4L528.6 509.4L526.8 510.4L525.0 511.4L523.2 512.4L521.4 513.3L519.7 514.3L517.9 515.2L516.2 516.1L514.5 517.1L512.8 518.1L511.1 519.1L509.5 520.2L507.8 521.3L506.2 522.3L504.6 523.4L503.0 524.4L501.4 525.4L499.9 526.4L498.3 527.4L496.8 528.4L495.3 529.4L493.8 530.4L492.3 531.4L490.9 532.5L489.4 533.5L488.0 534.6L486.6 535.6L485.2 536.6L483.8 537.6L482.5 538.6L481.1 539.5L479.8 540.4L478.5 541.4L477.2 542.3L476.0 543.1L474.7 544.0L473.5 544.8L472.3 545.5L471.1 546.3L469.9 547.0L468.8 547.7L467.6 548.4L466.5 549.1L465.4 549.7L464.3 550.4L463.3 551.0L462.2 551.6L461.2 552.2L460.2 552.7L459.2 553.3L458.2 553.8L457.3 554.2L456.4 554.7L455.5 555.1L454.6 555.5L453.7 555.8L452.8 556.1L452.0 556.4L451.2 556.6L450.4 556.9L449.6 557.1L448.9 557.3L448.1 557.5L447.4 557.7L446.7 557.9L446.0 558.1L445.4 558.2L444.8 558.4L444.1 558.5L443.5 558.7L443.0 558.8L442.4 558.9L441.9 559.0L441.4 559.1L440.9 559.2L440.4 559.3L439.9 559.4L439.5 559.5L439.1 559.5L438.7 559.6L438.3 559.7L437.9 559.7L437.6 559.7L437.3 559.8L437.0 559.8L436.7 559.8L436.5 559.9L436.2 559.9L436.0 559.9L435.8 559.9L435.7 559.9L435.5 560.0L435.4 560.0L435.3 560.0L435.2 560.0L435.1 560.0L435.0 560.0L435.0 560.0L435.0 560.0Z" stroke="#009a48"/>
<path d="M435.0 586.0L435.0 585.9L435.0 585.8L435.1 585.5L435.2 585.2L435.3 584.7L435.4 584.1L435.5 583.3L435.7 582.5L435.8 581.4L436.0 580.2L436.2 578.8L436.5 577.2L436.7 575.4L437.0 573.3L437.3 570.9L437.6 568.1L437.9 565.0L438.3 561.8L438.7 558.5L439.1 555.0L439.5 551.1L439.9 547.1L440.4 543.1L440.9 539.2L441.4 535.5L441.9 532.1L442.4 529.0L443.0 525.9L443.5 523.0L444.1 520.1L444.8 517.2L445.4 514.5L446.0 511.8L446.7 509.1L447.4 506.5L448.1 503.9L448.9 501.4L449.6 498.9L450.4 496.6L451.2 494.2L452.0 492.0L452.8 489.8L453.7 487.7L454.6 485.7L455.5 483.9L456.4 482.2L457.3 480.6L458.2 478.8L459.2 476.8L460.2 474.6L461.2 472.2L462.2 469.8L463.3 467.4L464.3 465.3L465.4 463.2L466.5 461.1L467.6 459.2L468.8 457.3L469.9 455.5L471.1 453.7L472.3 452.1L473.5 450.5L474.7 448.9L476.0 447.4L477.2 445.9L478.5 444.4L479.8 442.9L481.1 441.5L482.5 440.0L483.8 438.6L485.2 437.1L486.6 435.6L488.0 434.2L489.4 432.7L490.9 431.2L492.3 429.7L493.8 428.1L495.3 426.4L496.8 424.8L498.3 423.1L499.9 421.4L501.4 419.7L503.0 418.1L504.6 416.5L506.2 414.8L507.8 413.1L509.5 411.4L511.1 409.6L512.8 407.6L514.5 405.6L516.2 403.7L517.9 401.9L519.7 400.2L521.4 398.7L523.2 397.2L525.0 395.8L526.8 394.5L528.6 393.2L530.4 392.0L532.3 390.9L534.1 389.9L536.0 389.1L537.9 388.3L539.8 387.6L541.7 387.0L543.7 386.3L545.6 385.5L547.6 384.6L549.5 383.6L551.5 382.7L553.5 381.8L555.6 380.9L557.6 380.0L559.6 378.9L561.7 377.6L563.8 376.0L565.9 374.2L568.0 372.4L570.1 370.8L572.2 369.2L574.3 367.7L576.5 366.2L578.6 364.7L580.8 363.1L583.0 361.6L585.2 360.0L587.4 358.7L589.6 357.5L591.9 356.5L594.1 355.5L596.4 354.5L598.6 353.2L600.9 351.9L603.2 350.6L605.5 349.5L607.8 348.6L610.1 347.8L612.5 347.0L614.8 346.0L617.2 344.9L619.5 343.8L621.9 342.8L624.3 342.0L626.7 341.4L629.1 340.8L631.5 340.0L633.9 338.9L636.3 337.7L638.8 336.6L641.2 335.6L643.7 334.8L646.2 334.0L648.6 333.0L651.1 331.7L653.6 330.2L656.1 328.9L658.6 327.7L661.1 326.8L663.7 325.9L666.2 324.7L668.7 323.3L671.3 321.8L673.8 320.4L676.4 319.2L679.0 318.2L681.5 317.2L684.1 315.9L686.7 314.4L689.3 312.8L691.9 311.4L694.5 310.2L697.1 309.1L699.7 307.9L702.3 306.5L705.0 304.9L707.6 303.2L710.2 301.8L712.9 300.5L715.5 299.2L718.2 297.8L720.8 296.2L723.5 294.6L726.1 293.0L728.8 291.6L731.5 290.4L734.2 289.1L736.8 287.7L739.5 286.2L742.2 284.6L744.9 283.2L747.6 281.9L750.3 280.6L753.0 279.3L755.7 277.7L758.4 276.2L761.1 274.7L763.8 273.4L766.5 272.1L769.2 270.9L771.9 269.5L774.6 268.1L777.4 266.7L780.1 265.4L782.8 264.3L785.5 263.3L788.2 262.2L791.0 261.0L793.7 259.8L796.4 258.7L799.1 257.9L801.8 257.1L804.5 256.3L807.3 255.4L810.0 254.3L812.7 253.3L815.4 252.4L818.1 251.8L820.9 251.1L823.6 250.3L826.3 249.3L829.0 248.3L831.7 247.5L834.4 246.9L837.1 246.5L839.8 245.9L842.5 245.1L845.2 244.3L847.9 243.6L850.6 243.1L853.3 242.9L856.0 242.7L858.7 242.3L861.3 241.7L864.0 241.1L866.7 240.8L869.4 240.8L872.0 240.8L874.7 240.7L877.3 240.3L880.0 239.8L882.6 239.4L885.3 239.3L887.9 239.4L890.5 239.5L893.2 239.3L895.8 238.9L898.4 238.5L901.0 238.2L903.6 238.3L906.2 238.5L908.8 238.5L911.4 238.3L914.0 237.8L916.5 237.5L919.1 237.3L921.7 237.5L924.2 237.6L926.8 237.6L929.3 237.3L931.8 236.9L934.4 236.6L936.9 236.6L939.4 236.7L941.9 236.9L944.4 236.9L946.9 236.7L949.3 236.4L951.8 236.2L954.3 236.2L956.7 236.3L959.2 236.5L961.6 236.6L964.0 236.4L966.4 236.3L968.8 236.3L971.2 236.5L973.6 237.0L976.0 237.6L978.3 238.0L980.7 238.2L983.0 238.4L985.4 238.5L987.7 238.7L990.0 239.1L992.3 239.5L994.6 240.0L996.9 240.3L999.1 240.5L1001.4 240.6L1003.6 240.9L1005.9 241.2L1008.1 241.6L1010.3 242.1L1012.5 242.5L1014.7 242.8L1016.9 243.1L1019.0 243.2L1021.2 243.4L1023.3 243.7L1025.4 244.0L1027.5 244.3L1029.6 244.6L1031.7 244.8L1033.8 244.9L1035.9 245.0L1037.9 245.1L1039.9 245.2L1042.0 245.4L1044.0 245.6L1046.0 245.8L1047.9 245.9L1049.9 245.9L1051.8 245.8L1053.8 245.7L1055.7 245.6L1057.6 245.6L1059.5 245.6L1061.4 245.7L1063.2 245.7L1065.1 245.7L1066.9 245.7L1068.7 245.5L1070.5 245.3L1072.3 244.9L1074.1 244.5L1075.8 244.0L1077.6 243.4L1079.3 242.9L1081.0 242.3L1082.7 241.6L1084.4 240.9L1086.0 240.1L1087.7 239.3L1089.3 238.6L1090.9 238.0L1092.5 237.5L1094.1 237.2L1095.6 236.8L1097.2 236.4L1098.7 236.0L1100.2 235.4L1101.7 234.7L1103.2 233.9L1104.6 233.0L1106.1 232.2L1107.5 231.4L1108.9 230.6L1110.3 229.8L1111.7 229.1L1113.0 228.3L1114.4 227.6L1115.7 226.9L1117.0 226.1L1118.3 225.3L1119.5 224.5L1120.8 223.6L1122.0 222.7L1123.2 221.9L1124.4 221.0L1125.6 220.2L1126.7 219.4L1127.9 218.6L1129.0 217.8L1130.1 217.1L1131.2 216.4L1132.2 215.6L1133.3 214.9L1134.3 214.1L1135.3 213.4L1136.3 212.6L1137.3 211.9L1138.2 211.1L1139.1 210.4L1140.0 209.7L1140.9 208.9L1141.8 208.2L1142.7 207.6L1143.5 206.9L1144.3 206.3L1145.1 205.6L1145.9 205.0L1146.6 204.4L1147.4 203.8L1148.1 203.2L1148.8 202.7L1149.5 202.1L1150.1 201.6L1150.7 201.0L1151.4 200.5L1152.0 200.0L1152.5 199.5L1153.1 199.1L1153.6 198.6L1154.1 198.2L1154.6 197.8L1155.1 197.4L1155.6 197.0L1156.0 196.6L1156.4 196.2L1156.8 195.9L1157.2 195.6L1157.6 195.3L1157.9 195.0L1158.2 194.7L1158.5 194.4L1158.8 194.2L1159.0 194.0L1159.3 193.8L1159.5 193.6L1159.7 193.4L1159.8 193.3L1160.0 193.1L1160.1 193.0L1160.2 192.9L1160.3 192.8L1160.4 192.8L1160.5 192.7L1160.5 192.7L1160.5 192.7L1160.5 192.7L1160.5 192.7L1160.5 192.8L1160.4 193.0L1160.3 193.2L1160.2 193.5L1160.1 193.9L1160.0 194.3L1159.8 194.8L1159.7 195.3L1159.5 195.9L1159.3 196.6L1159.0 197.3L1158.8 198.1L1158.5 199.0L1158.2 199.9L1157.9 200.9L1157.6 201.9L1157.2 203.0L1156.8 204.1L1156.4 205.3L1156.0 206.6L1155.6 207.9L1155.1 209.2L1154.6 210.7L1154.1 212.1L1153.6 213.6L1153.1 215.2L1152.5 216.7L1152.0 218.3L1151.4 219.9L1150.7 221.5L1150.1 223.2L1149.5 224.8L1148.8 226.5L1148.1 228.2L1147.4 229.8L1146.6 231.4L1145.9 233.0L1145.1 234.6L1144.3 236.2L1143.5 237.8L1142.7 239.5L1141.8 241.2L1140.9 242.9L1140.0 244.6L1139.1 246.3L1138.2 248.0L1137.3 249.7L1136.3 251.5L1135.3 253.4L1134.3 255.2L1133.3 257.1L1132.2 259.2L1131.2 261.3L1130.1 263.7L1129.0 266.1L1127.9 268.5L1126.7 270.9L1125.6 273.2L1124.4 275.5L1123.2 277.7L1122.0 279.8L1120.8 281.9L1119.5 283.9L1118.3 285.9L1117.0 287.9L1115.7 289.9L1114.4 291.8L1113.0 293.7L1111.7 295.5L1110.3 297.3L1108.9 299.0L1107.5 300.8L1106.1 302.5L1104.6 304.3L1103.2 306.0L1101.7 307.9L1100.2 309.7L1098.7 311.5L1097.2 313.2L1095.6 314.9L1094.1 316.6L1092.5 318.3L1090.9 319.9L1089.3 321.5L1087.7 323.2L1086.0 324.9L1084.4 326.5L1082.7 328.2L1081.0 329.8L1079.3 331.3L1077.6 332.6L1075.8 334.0L1074.1 335.3L1072.3 336.6L1070.5 338.0L1068.7 339.4L1066.9 340.8L1065.1 342.1L1063.2 343.5L1061.4 344.7L1059.5 345.9L1057.6 347.0L1055.7 348.1L1053.8 349.2L1051.8 350.3L1049.9 351.4L1047.9 352.5L1046.0 353.6L1044.0 354.6L1042.0 355.5L1039.9 356.4L1037.9 357.3L1035.9 358.2L1033.8 359.1L1031.7 360.1L1029.6 361.1L1027.5 362.0L1025.4 362.8L1023.3 363.5L1021.2 364.3L1019.0 365.1L1016.9 365.9L1014.7 366.8L1012.5 367.7L1010.3 368.5L1008.1 369.3L1005.9 370.0L1003.6 370.7L1001.4 371.4L999.1 372.2L996.9 373.1L994.6 373.9L992.3 374.7L990.0 375.4L987.7 376.1L985.4 376.7L983.0 377.4L980.7 378.2L978.3 379.1L976.0 379.9L973.6 380.5L971.2 381.1L968.8 381.7L966.4 382.3L964.0 383.1L961.6 384.0L959.2 384.8L956.7 385.6L954.3 386.2L951.8 386.8L949.3 387.5L946.9 388.4L944.4 389.4L941.9 390.4L939.4 391.3L936.9 392.0L934.4 392.7L931.8 393.5L929.3 394.5L926.8 395.6L924.2 396.6L921.7 397.6L919.1 398.3L916.5 399.0L914.0 399.9L911.4 400.9L908.8 402.0L906.2 403.1L903.6 403.9L901.0 404.6L898.4 405.3L895.8 406.2L893.2 407.2L890.5 408.3L887.9 409.3L885.3 410.1L882.6 410.7L880.0 411.5L877.3 412.4L874.7 413.5L872.0 414.6L869.4 415.4L866.7 416.1L864.0 416.8L861.3 417.6L858.7 418.7L856.0 419.7L853.3 420.7L850.6 421.4L847.9 422.1L845.2 422.9L842.5 423.8L839.8 424.8L837.1 425.8L834.4 426.7L831.7 427.4L829.0 428.1L826.3 428.9L823.6 429.9L820.9 430.9L818.1 431.7L815.4 432.5L812.7 433.2L810.0 434.0L807.3 434.9L804.5 435.8L801.8 436.7L799.1 437.5L796.4 438.2L793.7 439.0L791.0 439.8L788.2 440.7L785.5 441.6L782.8 442.4L780.1 443.2L777.4 443.9L774.6 444.7L771.9 445.6L769.2 446.5L766.5 447.3L763.8 448.1L761.1 448.8L758.4 449.6L755.7 450.4L753.0 451.3L750.3 452.3L747.6 453.1L744.9 453.8L742.2 454.5L739.5 455.3L736.8 456.2L734.2 457.2L731.5 458.0L728.8 458.8L726.1 459.5L723.5 460.2L720.8 461.0L718.2 462.0L715.5 462.9L712.9 463.7L710.2 464.3L707.6 465.0L705.0 465.7L702.3 466.5L699.7 467.5L697.1 468.3L694.5 469.0L691.9 469.6L689.3 470.1L686.7 470.9L684.1 471.7L681.5 472.6L679.0 473.4L676.4 474.0L673.8 474.5L671.3 475.0L668.7 475.8L666.2 476.7L663.7 477.5L661.1 478.3L658.6 478.8L656.1 479.3L653.6 479.9L651.1 480.6L648.6 481.5L646.2 482.4L643.7 483.1L641.2 483.6L638.8 484.1L636.3 484.7L633.9 485.4L631.5 486.3L629.1 487.1L626.7 487.9L624.3 488.4L621.9 488.9L619.5 489.4L617.2 490.1L614.8 490.9L612.5 491.8L610.1 492.5L607.8 493.1L605.5 493.6L603.2 494.1L600.9 494.7L598.6 495.5L596.4 496.2L594.1 497.0L591.9 497.6L589.6 498.1L587.4 498.5L585.2 498.9L583.0 499.4L580.8 500.1L578.6 500.8L576.5 501.5L574.3 502.1L572.2 502.7L570.1 503.2L568.0 503.8L565.9 504.4L563.8 505.2L561.7 506.1L559.6 507.1L557.6 508.0L555.6 509.0L553.5 510.1L551.5 511.2L549.5 512.4L547.6 513.7L545.6 515.1L543.7 516.6L541.7 518.0L539.8 519.3L537.9 520.5L536.0 521.7L534.1 522.8L532.3 524.0L530.4 525.2L528.6 526.4L526.8 527.7L525.0 529.0L523.2 530.2L521.4 531.4L519.7 532.5L517.9 533.6L516.2 534.8L514.5 536.0L512.8 537.2L511.1 538.4L509.5 539.7L507.8 541.0L506.2 542.2L504.6 543.4L503.0 544.6L501.4 545.7L499.9 546.9L498.3 548.0L496.8 549.1L495.3 550.3L493.8 551.4L492.3 552.6L490.9 553.7L489.4 554.8L488.0 555.9L486.6 556.9L485.2 558.0L483.8 559.0L482.5 560.0L481.1 561.0L479.8 561.9L478.5 562.9L477.2 563.8L476.0 564.8L474.7 565.7L473.5 566.6L472.3 567.5L471.1 568.3L469.9 569.2L468.8 570.0L467.6 570.8L466.5 571.6L465.4 572.4L464.3 573.2L463.3 574.0L462.2 574.7L461.2 575.4L460.2 576.1L459.2 576.8L458.2 577.4L457.3 578.0L456.4 578.6L455.5 579.1L454.6 579.6L453.7 580.0L452.8 580.4L452.0 580.8L451.2 581.2L450.4 581.5L449.6 581.8L448.9 582.1L448.1 582.3L447.4 582.6L446.7 582.9L446.0 583.1L445.4 583.3L444.8 583.6L444.1 583.8L443.5 583.9L443.0 584.1L442.4 584.3L441.9 584.5L441.4 584.6L440.9 584.7L440.4 584.9L439.9 585.0L439.5 585.1L439.1 585.2L438.7 585.3L438.3 585.4L437.9 585.5L437.6 585.5L437.3 585.6L437.0 585.7L436.7 585.7L436.5 585.8L436.2 585.8L436.0 585.8L435.8 585.9L435.7 585.9L435.5 585.9L435.4 585.9L435.3 586.0L435.2 586.0L435.1 586.0L435.0 586.0L435.0 586.0L435.0 586.0Z" stroke="#303084"/>
<path d="M435.0 610.0L435.0 609.9L435.0 609.8L435.1 609.5L435.2 609.1L435.3 608.6L435.4 608.0L435.5 607.2L435.7 606.3L435.8 605.1L436.0 603.9L436.2 602.4L436.5 600.7L436.7 598.7L437.0 596.5L437.3 593.8L437.6 590.8L437.9 587.5L438.3 584.0L438.7 580.4L439.1 576.5L439.5 572.2L439.9 567.8L440.4 563.2L440.9 558.7L441.4 554.5L441.9 550.6L442.4 546.7L443.0 543.0L443.5 539.5L444.1 536.0L444.8 532.6L445.4 529.4L446.0 526.2L446.7 523.1L447.4 520.1L448.1 517.1L448.9 514.2L449.6 511.4L450.4 508.6L451.2 505.8L452.0 503.1L452.8 500.4L453.7 497.9L454.6 495.6L455.5 493.4L456.4 491.5L457.3 489.5L458.2 487.6L459.2 485.6L460.2 483.5L461.2 481.4L462.2 479.3L463.3 477.0L464.3 474.7L465.4 472.1L466.5 469.5L467.6 467.0L468.8 464.8L469.9 462.6L471.1 460.6L472.3 458.6L473.5 456.7L474.7 454.8L476.0 453.0L477.2 451.3L478.5 449.6L479.8 447.9L481.1 446.4L482.5 444.8L483.8 443.3L485.2 441.8L486.6 440.3L488.0 438.8L489.4 437.3L490.9 435.8L492.3 434.1L493.8 432.5L495.3 430.8L496.8 429.2L498.3 427.5L499.9 425.8L501.4 424.1L503.0 422.5L504.6 420.8L506.2 419.1L507.8 417.4L509.5 415.7L511.1 413.9L512.8 412.0L514.5 410.1L516.2 408.2L517.9 406.4L519.7 404.5L521.4 402.7L523.2 400.8L525.0 398.9L526.8 397.0L528.6 395.3L530.4 393.6L532.3 392.1L534.1 390.7L536.0 389.4L537.9 388.4L539.8 387.6L541.7 386.9L543.7 386.2L545.6 385.4L547.6 384.6L549.5 383.6L551.5 382.7L553.5 381.8L555.6 380.9L557.6 380.0L559.6 378.9L561.7 377.5L563.8 375.9L565.9 374.1L568.0 372.2L570.1 370.5L572.2 368.8L574.3 367.1L576.5 365.4L578.6 363.8L580.8 362.1L583.0 360.4L585.2 358.8L587.4 357.3L589.6 356.0L591.9 354.9L594.1 353.7L596.4 352.6L598.6 351.2L600.9 349.8L603.2 348.4L605.5 347.2L607.8 346.2L610.1 345.3L612.5 344.3L614.8 343.2L617.2 342.0L619.5 340.7L621.9 339.6L624.3 338.7L626.7 337.9L629.1 337.1L631.5 336.2L633.9 335.0L636.3 333.8L638.8 332.5L641.2 331.4L643.7 330.5L646.2 329.6L648.6 328.5L651.1 327.1L653.6 325.6L656.1 324.3L658.6 323.1L661.1 322.1L663.7 321.1L666.2 319.9L668.7 318.5L671.3 317.0L673.8 315.7L676.4 314.5L679.0 313.4L681.5 312.3L684.1 311.0L686.7 309.5L689.3 308.0L691.9 306.5L694.5 305.3L697.1 304.1L699.7 302.9L702.3 301.4L705.0 299.8L707.6 298.1L710.2 296.6L712.9 295.2L715.5 293.9L718.2 292.4L720.8 290.7L723.5 289.0L726.1 287.3L728.8 285.9L731.5 284.5L734.2 283.1L736.8 281.6L739.5 280.0L742.2 278.4L744.9 276.9L747.6 275.5L750.3 274.1L753.0 272.7L755.7 271.1L758.4 269.5L761.1 268.0L763.8 266.5L766.5 265.2L769.2 263.8L771.9 262.4L774.6 260.8L777.4 259.3L780.1 257.9L782.8 256.7L785.5 255.4L788.2 254.1L791.0 252.7L793.7 251.3L796.4 250.0L799.1 248.9L801.8 247.8L804.5 246.7L807.3 245.4L810.0 244.0L812.7 242.6L815.4 241.4L818.1 240.3L820.9 239.2L823.6 238.0L826.3 236.6L829.0 235.3L831.7 234.1L834.4 233.1L837.1 232.3L839.8 231.3L842.5 230.2L845.2 229.1L847.9 228.0L850.6 227.3L853.3 226.7L856.0 226.2L858.7 225.6L861.3 224.8L864.0 224.1L866.7 223.6L869.4 223.4L872.0 223.2L874.7 222.9L877.3 222.4L880.0 221.7L882.6 221.2L885.3 220.9L887.9 220.9L890.5 220.8L893.2 220.4L895.8 219.9L898.4 219.4L901.0 219.1L903.6 219.0L906.2 219.1L908.8 219.0L911.4 218.7L914.0 218.3L916.5 217.9L919.1 217.8L921.7 217.9L924.2 218.0L926.8 218.0L929.3 217.8L931.8 217.5L934.4 217.2L936.9 217.2L939.4 217.3L941.9 217.4L944.4 217.4L946.9 217.2L949.3 216.8L951.8 216.5L954.3 216.4L956.7 216.4L959.2 216.4L961.6 216.3L964.0 216.1L966.4 216.0L968.8 216.0L971.2 216.2L973.6 216.6L976.0 217.1L978.3 217.5L980.7 217.7L983.0 217.9L985.4 218.1L987.7 218.4L990.0 218.8L992.3 219.3L994.6 219.8L996.9 220.1L999.1 220.4L1001.4 220.7L1003.6 221.0L1005.9 221.4L1008.1 221.9L1010.3 222.5L1012.5 223.0L1014.7 223.4L1016.9 223.7L1019.0 224.0L1021.2 224.3L1023.3 224.6L1025.4 225.0L1027.5 225.4L1029.6 225.7L1031.7 226.0L1033.8 226.2L1035.9 226.4L1037.9 226.5L1039.9 226.7L1042.0 226.9L1044.0 227.2L1046.0 227.4L1047.9 227.6L1049.9 227.6L1051.8 227.6L1053.8 227.5L1055.7 227.5L1057.6 227.5L1059.5 227.6L1061.4 227.7L1063.2 227.9L1065.1 227.9L1066.9 227.9L1068.7 227.9L1070.5 227.7L1072.3 227.5L1074.1 227.1L1075.8 226.6L1077.6 226.2L1079.3 225.7L1081.0 225.1L1082.7 224.4L1084.4 223.6L1086.0 222.8L1087.7 222.0L1089.3 221.2L1090.9 220.4L1092.5 219.7L1094.1 219.0L1095.6 218.4L1097.2 217.7L1098.7 217.0L1100.2 216.2L1101.7 215.3L1103.2 214.5L1104.6 213.6L1106.1 212.7L1107.5 211.8L1108.9 211.0L1110.3 210.3L1111.7 209.6L1113.0 208.9L1114.4 208.2L1115.7 207.5L1117.0 206.8L1118.3 206.1L1119.5 205.3L1120.8 204.6L1122.0 203.8L1123.2 203.0L1124.4 202.3L1125.6 201.5L1126.7 200.8L1127.9 200.2L1129.0 199.5L1130.1 198.9L1131.2 198.3L1132.2 197.6L1133.3 197.0L1134.3 196.4L1135.3 195.7L1136.3 195.1L1137.3 194.4L1138.2 193.7L1139.1 193.1L1140.0 192.5L1140.9 191.8L1141.8 191.2L1142.7 190.6L1143.5 190.0L1144.3 189.4L1145.1 188.8L1145.9 188.3L1146.6 187.7L1147.4 187.2L1148.1 186.6L1148.8 186.1L1149.5 185.6L1150.1 185.1L1150.7 184.6L1151.4 184.1L1152.0 183.7L1152.5 183.2L1153.1 182.8L1153.6 182.4L1154.1 181.9L1154.6 181.5L1155.1 181.2L1155.6 180.8L1156.0 180.4L1156.4 180.1L1156.8 179.8L1157.2 179.5L1157.6 179.2L1157.9 178.9L1158.2 178.6L1158.5 178.4L1158.8 178.2L1159.0 177.9L1159.3 177.7L1159.5 177.6L1159.7 177.4L1159.8 177.3L1160.0 177.1L1160.1 177.0L1160.2 176.9L1160.3 176.8L1160.4 176.8L1160.5 176.7L1160.5 176.7L1160.5 176.7L1160.5 176.7L1160.5 176.7L1160.5 176.8L1160.4 177.0L1160.3 177.3L1160.2 177.6L1160.1 178.0L1160.0 178.5L1159.8 179.0L1159.7 179.6L1159.5 180.3L1159.3 181.0L1159.0 181.8L1158.8 182.7L1158.5 183.7L1158.2 184.7L1157.9 185.7L1157.6 186.9L1157.2 188.1L1156.8 189.3L1156.4 190.7L1156.0 192.0L1155.6 193.5L1155.1 195.0L1154.6 196.5L1154.1 198.2L1153.6 199.8L1153.1 201.5L1152.5 203.2L1152.0 205.0L1151.4 206.7L1150.7 208.5L1150.1 210.3L1149.5 212.1L1148.8 213.9L1148.1 215.7L1147.4 217.5L1146.6 219.2L1145.9 220.9L1145.1 222.6L1144.3 224.3L1143.5 226.1L1142.7 227.9L1141.8 229.7L1140.9 231.5L1140.0 233.3L1139.1 235.1L1138.2 236.9L1137.3 238.7L1136.3 240.6L1135.3 242.5L1134.3 244.5L1133.3 246.6L1132.2 248.8L1131.2 251.1L1130.1 253.6L1129.0 256.3L1127.9 258.9L1126.7 261.5L1125.6 264.1L1124.4 266.6L1123.2 269.0L1122.0 271.3L1120.8 273.5L1119.5 275.7L1118.3 277.9L1117.0 280.1L1115.7 282.2L1114.4 284.3L1113.0 286.3L1111.7 288.3L1110.3 290.2L1108.9 292.1L1107.5 294.0L1106.1 295.9L1104.6 297.8L1103.2 299.7L1101.7 301.7L1100.2 303.6L1098.7 305.5L1097.2 307.4L1095.6 309.3L1094.1 311.2L1092.5 313.0L1090.9 314.8L1089.3 316.5L1087.7 318.3L1086.0 320.1L1084.4 321.9L1082.7 323.7L1081.0 325.4L1079.3 327.0L1077.6 328.5L1075.8 330.0L1074.1 331.4L1072.3 332.9L1070.5 334.3L1068.7 335.8L1066.9 337.3L1065.1 338.8L1063.2 340.2L1061.4 341.6L1059.5 342.9L1057.6 344.1L1055.7 345.3L1053.8 346.5L1051.8 347.7L1049.9 348.9L1047.9 350.1L1046.0 351.2L1044.0 352.3L1042.0 353.3L1039.9 354.3L1037.9 355.2L1035.9 356.2L1033.8 357.2L1031.7 358.3L1029.6 359.3L1027.5 360.2L1025.4 361.1L1023.3 362.0L1021.2 362.8L1019.0 363.7L1016.9 364.6L1014.7 365.5L1012.5 366.5L1010.3 367.4L1008.1 368.2L1005.9 369.0L1003.6 369.7L1001.4 370.5L999.1 371.4L996.9 372.3L994.6 373.2L992.3 374.1L990.0 374.9L987.7 375.6L985.4 376.3L983.0 377.1L980.7 378.0L978.3 378.9L976.0 379.8L973.6 380.6L971.2 381.3L968.8 382.0L966.4 382.7L964.0 383.6L961.6 384.5L959.2 385.4L956.7 386.3L954.3 387.0L951.8 387.8L949.3 388.6L946.9 389.5L944.4 390.6L941.9 391.6L939.4 392.6L936.9 393.4L934.4 394.2L931.8 395.1L929.3 396.1L926.8 397.3L924.2 398.4L921.7 399.4L919.1 400.3L916.5 401.1L914.0 402.0L911.4 403.1L908.8 404.3L906.2 405.4L903.6 406.3L901.0 407.1L898.4 407.9L895.8 408.8L893.2 410.0L890.5 411.1L887.9 412.1L885.3 413.0L882.6 413.7L880.0 414.6L877.3 415.6L874.7 416.7L872.0 417.8L869.4 418.7L866.7 419.5L864.0 420.3L861.3 421.2L858.7 422.3L856.0 423.4L853.3 424.4L850.6 425.3L847.9 426.0L845.2 426.9L842.5 427.9L839.8 428.9L837.1 430.0L834.4 430.9L831.7 431.7L829.0 432.5L826.3 433.4L823.6 434.5L820.9 435.5L818.1 436.5L815.4 437.3L812.7 438.1L810.0 439.0L807.3 439.9L804.5 440.9L801.8 441.9L799.1 442.8L796.4 443.6L793.7 444.4L791.0 445.3L788.2 446.3L785.5 447.3L782.8 448.2L780.1 449.0L777.4 449.8L774.6 450.7L771.9 451.6L769.2 452.6L766.5 453.5L763.8 454.4L761.1 455.2L758.4 456.0L755.7 457.0L753.0 457.9L750.3 458.9L747.6 459.8L744.9 460.6L742.2 461.5L739.5 462.3L736.8 463.3L734.2 464.3L731.5 465.2L728.8 466.1L726.1 466.9L723.5 467.7L720.8 468.6L718.2 469.5L715.5 470.5L712.9 471.4L710.2 472.1L707.6 472.9L705.0 473.7L702.3 474.6L699.7 475.6L697.1 476.5L694.5 477.2L691.9 477.9L689.3 478.6L686.7 479.4L684.1 480.3L681.5 481.2L679.0 482.0L676.4 482.7L673.8 483.3L671.3 484.0L668.7 484.8L666.2 485.7L663.7 486.6L661.1 487.4L658.6 488.0L656.1 488.6L653.6 489.3L651.1 490.1L648.6 491.0L646.2 492.0L643.7 492.8L641.2 493.4L638.8 494.0L636.3 494.7L633.9 495.5L631.5 496.4L629.1 497.3L626.7 498.2L624.3 498.8L621.9 499.4L619.5 500.1L617.2 500.8L614.8 501.7L612.5 502.6L610.1 503.5L607.8 504.2L605.5 504.8L603.2 505.4L600.9 506.1L598.6 506.9L596.4 507.8L594.1 508.6L591.9 509.3L589.6 509.9L587.4 510.5L585.2 511.0L583.0 511.7L580.8 512.4L578.6 513.2L576.5 514.0L574.3 514.7L572.2 515.4L570.1 516.1L568.0 516.8L565.9 517.6L563.8 518.5L561.7 519.4L559.6 520.5L557.6 521.5L555.6 522.6L553.5 523.7L551.5 524.9L549.5 526.2L547.6 527.5L545.6 529.0L543.7 530.4L541.7 531.8L539.8 533.2L537.9 534.5L536.0 535.7L534.1 536.9L532.3 538.1L530.4 539.3L528.6 540.6L526.8 541.9L525.0 543.1L523.2 544.4L521.4 545.6L519.7 546.8L517.9 548.0L516.2 549.2L514.5 550.5L512.8 551.8L511.1 553.2L509.5 554.6L507.8 556.0L506.2 557.4L504.6 558.8L503.0 560.1L501.4 561.4L499.9 562.7L498.3 564.0L496.8 565.3L495.3 566.6L493.8 567.9L492.3 569.2L490.9 570.6L489.4 571.9L488.0 573.2L486.6 574.4L485.2 575.7L483.8 576.9L482.5 578.1L481.1 579.2L479.8 580.4L478.5 581.5L477.2 582.6L476.0 583.7L474.7 584.7L473.5 585.7L472.3 586.6L471.1 587.4L469.9 588.3L468.8 589.1L467.6 589.8L466.5 590.6L465.4 591.3L464.3 592.0L463.3 592.6L462.2 593.3L461.2 593.9L460.2 594.6L459.2 595.2L458.2 595.8L457.3 596.4L456.4 597.0L455.5 597.5L454.6 598.1L453.7 598.6L452.8 599.2L452.0 599.7L451.2 600.2L450.4 600.7L449.6 601.1L448.9 601.6L448.1 602.1L447.4 602.5L446.7 602.9L446.0 603.4L445.4 603.8L444.8 604.1L444.1 604.5L443.5 604.9L443.0 605.2L442.4 605.6L441.9 605.9L441.4 606.2L440.9 606.5L440.4 606.8L439.9 607.1L439.5 607.3L439.1 607.6L438.7 607.8L438.3 608.0L437.9 608.3L437.6 608.5L437.3 608.6L437.0 608.8L436.7 609.0L436.5 609.1L436.2 609.3L436.0 609.4L435.8 609.5L435.7 609.6L435.5 609.7L435.4 609.8L435.3 609.8L435.2 609.9L435.1 609.9L435.0 610.0L435.0 610.0L435.0 610.0Z" stroke="#a640f0"/>
<path d="M435.0 636.0L435.0 635.9L435.0 635.8L435.1 635.5L435.2 635.1L435.3 634.5L435.4 633.9L435.5 633.0L435.7 632.0L435.8 630.9L436.0 629.5L436.2 627.9L436.5 626.1L436.7 624.1L437.0 621.7L437.3 618.9L437.6 615.7L437.9 612.2L438.3 608.4L438.7 604.5L439.1 600.3L439.5 595.7L439.9 590.9L440.4 585.9L440.9 580.9L441.4 576.1L441.9 571.5L442.4 566.9L443.0 562.4L443.5 558.1L444.1 554.0L444.8 550.0L445.4 546.2L446.0 542.6L446.7 539.0L447.4 535.5L448.1 532.1L448.9 528.8L449.6 525.5L450.4 522.3L451.2 519.1L452.0 515.9L452.8 512.9L453.7 509.9L454.6 507.2L455.5 504.5L456.4 502.0L457.3 499.6L458.2 497.3L459.2 495.1L460.2 493.1L461.2 491.2L462.2 489.3L463.3 487.3L464.3 484.9L465.4 482.2L466.5 479.4L467.6 476.6L468.8 474.0L469.9 471.4L471.1 468.9L472.3 466.6L473.5 464.3L474.7 462.1L476.0 460.0L477.2 457.9L478.5 455.9L479.8 454.0L481.1 452.2L482.5 450.4L483.8 448.7L485.2 447.1L486.6 445.6L488.0 444.0L489.4 442.4L490.9 440.8L492.3 439.2L493.8 437.5L495.3 435.8L496.8 434.1L498.3 432.3L499.9 430.6L501.4 428.9L503.0 427.2L504.6 425.5L506.2 423.9L507.8 422.1L509.5 420.4L511.1 418.6L512.8 416.7L514.5 414.8L516.2 412.9L517.9 411.1L519.7 409.3L521.4 407.4L523.2 405.6L525.0 403.7L526.8 401.8L528.6 399.8L530.4 397.8L532.3 395.7L534.1 393.6L536.0 391.7L537.9 390.2L539.8 388.9L541.7 387.8L543.7 386.8L545.6 385.7L547.6 384.6L549.5 383.5L551.5 382.6L553.5 381.7L555.6 380.9L557.6 380.0L559.6 378.9L561.7 377.5L563.8 375.8L565.9 374.0L568.0 372.1L570.1 370.3L572.2 368.6L574.3 366.8L576.5 365.1L578.6 363.3L580.8 361.5L583.0 359.8L585.2 358.0L587.4 356.5L589.6 355.1L591.9 353.8L594.1 352.6L596.4 351.3L598.6 349.8L600.9 348.3L603.2 346.8L605.5 345.5L607.8 344.3L610.1 343.3L612.5 342.2L614.8 341.0L617.2 339.6L619.5 338.2L621.9 336.9L624.3 335.9L626.7 335.0L629.1 334.1L631.5 333.0L633.9 331.7L636.3 330.3L638.8 328.9L641.2 327.8L643.7 326.7L646.2 325.7L648.6 324.5L651.1 323.1L653.6 321.5L656.1 320.1L658.6 318.9L661.1 317.8L663.7 316.8L666.2 315.5L668.7 314.1L671.3 312.6L673.8 311.1L676.4 309.9L679.0 308.8L681.5 307.7L684.1 306.3L686.7 304.8L689.3 303.2L691.9 301.7L694.5 300.4L697.1 299.2L699.7 297.9L702.3 296.3L705.0 294.6L707.6 292.9L710.2 291.3L712.9 289.9L715.5 288.4L718.2 286.9L720.8 285.1L723.5 283.3L726.1 281.6L728.8 280.0L731.5 278.6L734.2 277.1L736.8 275.6L739.5 273.9L742.2 272.2L744.9 270.6L747.6 269.2L750.3 267.8L753.0 266.3L755.7 264.6L758.4 263.0L761.1 261.3L763.8 259.9L766.5 258.5L769.2 257.0L771.9 255.5L774.6 253.9L777.4 252.3L780.1 250.8L782.8 249.4L785.5 248.1L788.2 246.7L791.0 245.2L793.7 243.6L796.4 242.2L799.1 240.9L801.8 239.6L804.5 238.3L807.3 236.9L810.0 235.3L812.7 233.7L815.4 232.3L818.1 231.1L820.9 229.8L823.6 228.4L826.3 226.8L829.0 225.3L831.7 223.9L834.4 222.7L837.1 221.6L839.8 220.5L842.5 219.1L845.2 217.7L847.9 216.5L850.6 215.5L853.3 214.7L856.0 213.9L858.7 213.0L861.3 212.0L864.0 211.0L866.7 210.2L869.4 209.7L872.0 209.3L874.7 208.7L877.3 207.9L880.0 207.1L882.6 206.3L885.3 205.8L887.9 205.5L890.5 205.2L893.2 204.7L895.8 203.9L898.4 203.2L901.0 202.7L903.6 202.4L906.2 202.2L908.8 201.9L911.4 201.4L914.0 200.8L916.5 200.2L919.1 199.9L921.7 199.7L924.2 199.6L926.8 199.4L929.3 199.0L931.8 198.5L934.4 198.1L936.9 197.8L939.4 197.8L941.9 197.8L944.4 197.6L946.9 197.2L949.3 196.8L951.8 196.4L954.3 196.1L956.7 196.0L959.2 195.9L961.6 195.8L964.0 195.6L966.4 195.5L968.8 195.4L971.2 195.5L973.6 195.8L976.0 196.2L978.3 196.5L980.7 196.7L983.0 196.9L985.4 197.1L987.7 197.6L990.0 198.1L992.3 198.8L994.6 199.4L996.9 200.0L999.1 200.4L1001.4 200.7L1003.6 201.2L1005.9 201.7L1008.1 202.2L1010.3 202.9L1012.5 203.5L1014.7 204.0L1016.9 204.4L1019.0 204.7L1021.2 205.1L1023.3 205.6L1025.4 206.0L1027.5 206.5L1029.6 207.1L1031.7 207.5L1033.8 207.9L1035.9 208.2L1037.9 208.5L1039.9 208.9L1042.0 209.3L1044.0 209.6L1046.0 209.9L1047.9 210.1L1049.9 210.1L1051.8 210.0L1053.8 209.9L1055.7 209.9L1057.6 209.9L1059.5 209.9L1061.4 210.0L1063.2 210.1L1065.1 210.2L1066.9 210.1L1068.7 210.1L1070.5 209.9L1072.3 209.7L1074.1 209.3L1075.8 208.8L1077.6 208.3L1079.3 207.8L1081.0 207.2L1082.7 206.5L1084.4 205.7L1086.0 204.8L1087.7 204.0L1089.3 203.2L1090.9 202.4L1092.5 201.7L1094.1 201.1L1095.6 200.4L1097.2 199.7L1098.7 199.0L1100.2 198.3L1101.7 197.4L1103.2 196.6L1104.6 195.7L1106.1 194.8L1107.5 194.0L1108.9 193.2L1110.3 192.5L1111.7 191.8L1113.0 191.2L1114.4 190.5L1115.7 189.9L1117.0 189.2L1118.3 188.5L1119.5 187.8L1120.8 187.0L1122.0 186.3L1123.2 185.5L1124.4 184.8L1125.6 184.0L1126.7 183.3L1127.9 182.7L1129.0 182.0L1130.1 181.3L1131.2 180.7L1132.2 180.0L1133.3 179.4L1134.3 178.7L1135.3 178.1L1136.3 177.4L1137.3 176.7L1138.2 176.1L1139.1 175.4L1140.0 174.8L1140.9 174.1L1141.8 173.5L1142.7 172.9L1143.5 172.3L1144.3 171.7L1145.1 171.1L1145.9 170.5L1146.6 170.0L1147.4 169.4L1148.1 168.9L1148.8 168.4L1149.5 167.9L1150.1 167.4L1150.7 166.9L1151.4 166.4L1152.0 165.9L1152.5 165.5L1153.1 165.0L1153.6 164.6L1154.1 164.2L1154.6 163.8L1155.1 163.4L1155.6 163.1L1156.0 162.7L1156.4 162.4L1156.8 162.0L1157.2 161.7L1157.6 161.4L1157.9 161.2L1158.2 160.9L1158.5 160.7L1158.8 160.4L1159.0 160.2L1159.3 160.0L1159.5 159.9L1159.7 159.7L1159.8 159.5L1160.0 159.4L1160.1 159.3L1160.2 159.2L1160.3 159.1L1160.4 159.1L1160.5 159.0L1160.5 159.0L1160.5 159.0L1160.5 159.0L1160.5 159.0L1160.5 159.2L1160.4 159.4L1160.3 159.6L1160.2 160.0L1160.1 160.4L1160.0 161.0L1159.8 161.5L1159.7 162.2L1159.5 163.0L1159.3 163.8L1159.0 164.7L1158.8 165.7L1158.5 166.7L1158.2 167.8L1157.9 169.0L1157.6 170.3L1157.2 171.6L1156.8 173.0L1156.4 174.4L1156.0 176.0L1155.6 177.6L1155.1 179.2L1154.6 180.9L1154.1 182.7L1153.6 184.5L1153.1 186.4L1152.5 188.3L1152.0 190.2L1151.4 192.1L1150.7 194.1L1150.1 196.0L1149.5 198.0L1148.8 200.0L1148.1 201.9L1147.4 203.9L1146.6 205.7L1145.9 207.6L1145.1 209.4L1144.3 211.2L1143.5 213.1L1142.7 215.0L1141.8 216.9L1140.9 218.8L1140.0 220.8L1139.1 222.7L1138.2 224.6L1137.3 226.5L1136.3 228.5L1135.3 230.6L1134.3 232.7L1133.3 234.9L1132.2 237.3L1131.2 239.8L1130.1 242.6L1129.0 245.5L1127.9 248.3L1126.7 251.2L1125.6 254.0L1124.4 256.8L1123.2 259.3L1122.0 261.8L1120.8 264.3L1119.5 266.6L1118.3 269.0L1117.0 271.4L1115.7 273.7L1114.4 275.9L1113.0 278.1L1111.7 280.3L1110.3 282.4L1108.9 284.4L1107.5 286.5L1106.1 288.6L1104.6 290.6L1103.2 292.7L1101.7 294.8L1100.2 296.9L1098.7 299.0L1097.2 301.1L1095.6 303.1L1094.1 305.1L1092.5 307.1L1090.9 309.0L1089.3 311.0L1087.7 312.9L1086.0 314.9L1084.4 316.8L1082.7 318.7L1081.0 320.6L1079.3 322.3L1077.6 323.9L1075.8 325.5L1074.1 327.1L1072.3 328.7L1070.5 330.3L1068.7 331.9L1066.9 333.5L1065.1 335.1L1063.2 336.7L1061.4 338.2L1059.5 339.5L1057.6 340.9L1055.7 342.2L1053.8 343.4L1051.8 344.7L1049.9 346.1L1047.9 347.3L1046.0 348.6L1044.0 349.7L1042.0 350.8L1039.9 351.9L1037.9 352.9L1035.9 354.0L1033.8 355.1L1031.7 356.2L1029.6 357.3L1027.5 358.4L1025.4 359.4L1023.3 360.3L1021.2 361.2L1019.0 362.1L1016.9 363.1L1014.7 364.1L1012.5 365.1L1010.3 366.1L1008.1 367.0L1005.9 367.9L1003.6 368.7L1001.4 369.6L999.1 370.5L996.9 371.5L994.6 372.5L992.3 373.4L990.0 374.3L987.7 375.1L985.4 375.9L983.0 376.8L980.7 377.8L978.3 378.8L976.0 379.8L973.6 380.6L971.2 381.4L968.8 382.2L966.4 383.1L964.0 384.0L961.6 385.1L959.2 386.1L956.7 387.0L954.3 387.9L951.8 388.7L949.3 389.6L946.9 390.6L944.4 391.8L941.9 392.9L939.4 394.0L936.9 394.9L934.4 395.7L931.8 396.7L929.3 397.8L926.8 399.1L924.2 400.3L921.7 401.3L919.1 402.2L916.5 403.1L914.0 404.1L911.4 405.3L908.8 406.5L906.2 407.7L903.6 408.7L901.0 409.6L898.4 410.4L895.8 411.5L893.2 412.6L890.5 413.8L887.9 414.9L885.3 415.8L882.6 416.7L880.0 417.6L877.3 418.6L874.7 419.8L872.0 421.0L869.4 422.0L866.7 422.8L864.0 423.7L861.3 424.6L858.7 425.8L856.0 426.9L853.3 428.0L850.6 428.9L847.9 429.8L845.2 430.7L842.5 431.7L839.8 432.8L837.1 433.9L834.4 434.9L831.7 435.8L829.0 436.7L826.3 437.6L823.6 438.7L820.9 439.8L818.1 440.8L815.4 441.7L812.7 442.6L810.0 443.5L807.3 444.5L804.5 445.6L801.8 446.6L799.1 447.5L796.4 448.4L793.7 449.3L791.0 450.2L788.2 451.3L785.5 452.3L782.8 453.3L780.1 454.2L777.4 455.0L774.6 456.0L771.9 457.0L769.2 458.0L766.5 459.0L763.8 459.9L761.1 460.8L758.4 461.7L755.7 462.7L753.0 463.7L750.3 464.7L747.6 465.7L744.9 466.6L742.2 467.4L739.5 468.4L736.8 469.4L734.2 470.4L731.5 471.5L728.8 472.3L726.1 473.2L723.5 474.0L720.8 475.0L718.2 476.1L715.5 477.1L712.9 478.0L710.2 478.8L707.6 479.6L705.0 480.5L702.3 481.4L699.7 482.5L697.1 483.4L694.5 484.3L691.9 485.0L689.3 485.7L686.7 486.5L684.1 487.5L681.5 488.5L679.0 489.4L676.4 490.1L673.8 490.7L671.3 491.5L668.7 492.3L666.2 493.3L663.7 494.3L661.1 495.1L658.6 495.8L656.1 496.5L653.6 497.2L651.1 498.1L648.6 499.1L646.2 500.1L643.7 500.9L641.2 501.7L638.8 502.3L636.3 503.0L633.9 503.9L631.5 504.9L629.1 505.9L626.7 506.8L624.3 507.5L621.9 508.2L619.5 508.9L617.2 509.8L614.8 510.7L612.5 511.7L610.1 512.6L607.8 513.4L605.5 514.1L603.2 514.8L600.9 515.6L598.6 516.5L596.4 517.4L594.1 518.3L591.9 519.1L589.6 519.8L587.4 520.4L585.2 521.0L583.0 521.8L580.8 522.6L578.6 523.5L576.5 524.3L574.3 525.2L572.2 525.9L570.1 526.7L568.0 527.5L565.9 528.4L563.8 529.4L561.7 530.5L559.6 531.6L557.6 532.8L555.6 534.0L553.5 535.3L551.5 536.6L549.5 538.1L547.6 539.6L545.6 541.2L543.7 542.9L541.7 544.5L539.8 546.0L537.9 547.5L536.0 548.8L534.1 550.2L532.3 551.5L530.4 552.9L528.6 554.3L526.8 555.7L525.0 557.2L523.2 558.6L521.4 559.9L519.7 561.3L517.9 562.6L516.2 564.0L514.5 565.4L512.8 566.9L511.1 568.4L509.5 569.9L507.8 571.5L506.2 573.0L504.6 574.5L503.0 576.0L501.4 577.5L499.9 578.9L498.3 580.4L496.8 581.8L495.3 583.3L493.8 584.8L492.3 586.2L490.9 587.7L489.4 589.1L488.0 590.6L486.6 592.0L485.2 593.3L483.8 594.7L482.5 596.0L481.1 597.4L479.8 598.7L478.5 600.0L477.2 601.2L476.0 602.5L474.7 603.7L473.5 604.9L472.3 606.0L471.1 607.1L469.9 608.2L468.8 609.3L467.6 610.3L466.5 611.4L465.4 612.4L464.3 613.3L463.3 614.3L462.2 615.2L461.2 616.1L460.2 617.0L459.2 617.9L458.2 618.8L457.3 619.6L456.4 620.4L455.5 621.2L454.6 621.9L453.7 622.6L452.8 623.3L452.0 624.0L451.2 624.6L450.4 625.2L449.6 625.8L448.9 626.4L448.1 626.9L447.4 627.5L446.7 628.0L446.0 628.5L445.4 629.0L444.8 629.4L444.1 629.9L443.5 630.3L443.0 630.7L442.4 631.1L441.9 631.5L441.4 631.8L440.9 632.2L440.4 632.5L439.9 632.8L439.5 633.1L439.1 633.4L438.7 633.6L438.3 633.9L437.9 634.1L437.6 634.3L437.3 634.5L437.0 634.7L436.7 634.9L436.5 635.1L436.2 635.2L436.0 635.4L435.8 635.5L435.7 635.6L435.5 635.7L435.4 635.8L435.3 635.8L435.2 635.9L435.1 635.9L435.0 636.0L435.0 636.0L435.0 636.0Z" stroke="#a0329e"/>
<path d="M435.0 663.0L435.0 662.9L435.0 662.8L435.1 662.5L435.2 662.0L435.3 661.5L435.4 660.8L435.5 659.9L435.7 658.8L435.8 657.6L436.0 656.1L436.2 654.5L436.5 652.6L436.7 650.4L437.0 647.9L437.3 645.0L437.6 641.7L437.9 638.0L438.3 634.1L438.7 629.9L439.1 625.5L439.5 620.7L439.9 615.5L440.4 610.2L440.9 604.8L441.4 599.5L441.9 594.2L442.4 588.8L443.0 583.5L443.5 578.3L444.1 573.4L444.8 568.9L445.4 564.6L446.0 560.4L446.7 556.3L447.4 552.3L448.1 548.4L448.9 544.6L449.6 540.9L450.4 537.3L451.2 533.7L452.0 530.1L452.8 526.7L453.7 523.3L454.6 520.1L455.5 517.0L456.4 513.9L457.3 511.0L458.2 508.2L459.2 505.7L460.2 503.4L461.2 501.3L462.2 499.3L463.3 497.3L464.3 495.0L465.4 492.7L466.5 490.3L467.6 487.7L468.8 484.9L469.9 481.8L471.1 478.6L472.3 475.8L473.5 473.2L474.7 470.6L476.0 468.2L477.2 465.8L478.5 463.4L479.8 461.2L481.1 459.0L482.5 457.0L483.8 455.0L485.2 453.2L486.6 451.4L488.0 449.6L489.4 447.9L490.9 446.3L492.3 444.6L493.8 442.9L495.3 441.2L496.8 439.4L498.3 437.6L499.9 435.8L501.4 434.1L503.0 432.4L504.6 430.6L506.2 428.9L507.8 427.2L509.5 425.4L511.1 423.6L512.8 421.7L514.5 419.8L516.2 418.0L517.9 416.1L519.7 414.3L521.4 412.4L523.2 410.6L525.0 408.8L526.8 406.9L528.6 405.0L530.4 402.9L532.3 400.9L534.1 398.8L536.0 396.8L537.9 394.9L539.8 393.0L541.7 391.2L543.7 389.4L545.6 387.6L547.6 385.9L549.5 384.5L551.5 383.3L553.5 382.2L555.6 381.2L557.6 380.1L559.6 378.8L561.7 377.3L563.8 375.7L565.9 373.9L568.0 372.1L570.1 370.4L572.2 368.6L574.3 366.9L576.5 365.1L578.6 363.3L580.8 361.5L583.0 359.7L585.2 358.0L587.4 356.4L589.6 354.9L591.9 353.5L594.1 352.0L596.4 350.6L598.6 349.0L600.9 347.4L603.2 345.8L605.5 344.3L607.8 343.0L610.1 341.7L612.5 340.5L614.8 339.1L617.2 337.7L619.5 336.3L621.9 334.9L624.3 333.7L626.7 332.6L629.1 331.5L631.5 330.3L633.9 329.0L636.3 327.6L638.8 326.1L641.2 324.8L643.7 323.6L646.2 322.3L648.6 321.0L651.1 319.5L653.6 317.9L656.1 316.4L658.6 315.0L661.1 313.8L663.7 312.6L666.2 311.2L668.7 309.7L671.3 308.1L673.8 306.6L676.4 305.3L679.0 304.0L681.5 302.7L684.1 301.3L686.7 299.7L689.3 298.1L691.9 296.5L694.5 295.1L697.1 293.8L699.7 292.3L702.3 290.7L705.0 289.0L707.6 287.3L710.2 285.7L712.9 284.2L715.5 282.6L718.2 281.0L720.8 279.3L723.5 277.5L726.1 275.8L728.8 274.2L731.5 272.6L734.2 271.1L736.8 269.5L739.5 267.8L742.2 266.1L744.9 264.5L747.6 262.9L750.3 261.4L753.0 259.8L755.7 258.1L758.4 256.4L761.1 254.8L763.8 253.2L766.5 251.7L769.2 250.2L771.9 248.6L774.6 246.9L777.4 245.3L780.1 243.8L782.8 242.3L785.5 240.9L788.2 239.4L791.0 237.8L793.7 236.3L796.4 234.8L799.1 233.4L801.8 232.1L804.5 230.7L807.3 229.3L810.0 227.7L812.7 226.3L815.4 224.9L818.1 223.6L820.9 222.3L823.6 221.0L826.3 219.5L829.0 218.1L831.7 216.7L834.4 215.5L837.1 214.4L839.8 213.1L842.5 211.8L845.2 210.4L847.9 209.2L850.6 208.0L853.3 207.0L856.0 206.0L858.7 204.9L861.3 203.7L864.0 202.5L866.7 201.4L869.4 200.5L872.0 199.6L874.7 198.7L877.3 197.6L880.0 196.4L882.6 195.4L885.3 194.5L887.9 193.7L890.5 192.9L893.2 192.0L895.8 191.0L898.4 190.0L901.0 189.1L903.6 188.4L906.2 187.8L908.8 187.2L911.4 186.4L914.0 185.5L916.5 184.7L919.1 184.0L921.7 183.6L924.2 183.2L926.8 182.7L929.3 182.1L931.8 181.5L934.4 180.9L936.9 180.4L939.4 180.1L941.9 179.8L944.4 179.4L946.9 178.8L949.3 178.1L951.8 177.4L954.3 176.8L956.7 176.3L959.2 175.8L961.6 175.4L964.0 175.1L966.4 175.0L968.8 175.0L971.2 175.1L973.6 175.4L976.0 175.7L978.3 176.0L980.7 176.2L983.0 176.4L985.4 176.8L987.7 177.4L990.0 178.1L992.3 178.8L994.6 179.6L996.9 180.3L999.1 180.8L1001.4 181.3L1003.6 181.8L1005.9 182.4L1008.1 183.0L1010.3 183.6L1012.5 184.3L1014.7 184.8L1016.9 185.3L1019.0 185.7L1021.2 186.1L1023.3 186.6L1025.4 187.0L1027.5 187.5L1029.6 188.0L1031.7 188.4L1033.8 188.8L1035.9 189.1L1037.9 189.5L1039.9 189.8L1042.0 190.1L1044.0 190.5L1046.0 190.8L1047.9 191.0L1049.9 191.1L1051.8 191.1L1053.8 191.1L1055.7 191.1L1057.6 191.2L1059.5 191.3L1061.4 191.4L1063.2 191.5L1065.1 191.6L1066.9 191.6L1068.7 191.6L1070.5 191.5L1072.3 191.2L1074.1 191.0L1075.8 190.6L1077.6 190.2L1079.3 189.8L1081.0 189.3L1082.7 188.7L1084.4 188.1L1086.0 187.5L1087.7 186.8L1089.3 186.2L1090.9 185.6L1092.5 185.0L1094.1 184.4L1095.6 183.8L1097.2 183.2L1098.7 182.6L1100.2 181.9L1101.7 181.2L1103.2 180.4L1104.6 179.6L1106.1 178.8L1107.5 178.1L1108.9 177.3L1110.3 176.6L1111.7 175.9L1113.0 175.2L1114.4 174.5L1115.7 173.8L1117.0 173.0L1118.3 172.3L1119.5 171.5L1120.8 170.7L1122.0 169.9L1123.2 169.1L1124.4 168.3L1125.6 167.6L1126.7 166.8L1127.9 166.0L1129.0 165.3L1130.1 164.5L1131.2 163.7L1132.2 163.0L1133.3 162.2L1134.3 161.5L1135.3 160.7L1136.3 160.0L1137.3 159.3L1138.2 158.6L1139.1 157.9L1140.0 157.3L1140.9 156.6L1141.8 156.0L1142.7 155.4L1143.5 154.8L1144.3 154.2L1145.1 153.7L1145.9 153.1L1146.6 152.6L1147.4 152.1L1148.1 151.6L1148.8 151.1L1149.5 150.7L1150.1 150.2L1150.7 149.8L1151.4 149.3L1152.0 148.9L1152.5 148.5L1153.1 148.1L1153.6 147.7L1154.1 147.4L1154.6 147.0L1155.1 146.7L1155.6 146.4L1156.0 146.1L1156.4 145.8L1156.8 145.5L1157.2 145.3L1157.6 145.0L1157.9 144.8L1158.2 144.6L1158.5 144.4L1158.8 144.2L1159.0 144.0L1159.3 143.8L1159.5 143.7L1159.7 143.6L1159.8 143.4L1160.0 143.3L1160.1 143.3L1160.2 143.2L1160.3 143.1L1160.4 143.1L1160.5 143.0L1160.5 143.0L1160.5 143.0L1160.5 143.0L1160.5 143.0L1160.5 143.2L1160.4 143.4L1160.3 143.7L1160.2 144.1L1160.1 144.6L1160.0 145.1L1159.8 145.8L1159.7 146.5L1159.5 147.3L1159.3 148.2L1159.0 149.2L1158.8 150.2L1158.5 151.4L1158.2 152.6L1157.9 153.9L1157.6 155.2L1157.2 156.7L1156.8 158.2L1156.4 159.8L1156.0 161.4L1155.6 163.2L1155.1 165.0L1154.6 166.8L1154.1 168.8L1153.6 170.7L1153.1 172.8L1152.5 174.8L1152.0 176.8L1151.4 178.9L1150.7 181.0L1150.1 183.1L1149.5 185.3L1148.8 187.4L1148.1 189.5L1147.4 191.5L1146.6 193.5L1145.9 195.5L1145.1 197.4L1144.3 199.4L1143.5 201.4L1142.7 203.4L1141.8 205.4L1140.9 207.4L1140.0 209.5L1139.1 211.5L1138.2 213.5L1137.3 215.5L1136.3 217.6L1135.3 219.8L1134.3 222.0L1133.3 224.4L1132.2 226.8L1131.2 229.5L1130.1 232.5L1129.0 235.7L1127.9 238.8L1126.7 241.8L1125.6 244.9L1124.4 247.9L1123.2 250.6L1122.0 253.3L1120.8 255.9L1119.5 258.5L1118.3 261.0L1117.0 263.5L1115.7 265.9L1114.4 268.3L1113.0 270.7L1111.7 273.0L1110.3 275.3L1108.9 277.5L1107.5 279.8L1106.1 282.0L1104.6 284.2L1103.2 286.4L1101.7 288.6L1100.2 290.8L1098.7 293.0L1097.2 295.2L1095.6 297.4L1094.1 299.6L1092.5 301.8L1090.9 303.9L1089.3 306.0L1087.7 308.0L1086.0 310.1L1084.4 312.2L1082.7 314.2L1081.0 316.2L1079.3 318.0L1077.6 319.8L1075.8 321.5L1074.1 323.2L1072.3 324.9L1070.5 326.7L1068.7 328.4L1066.9 330.1L1065.1 331.8L1063.2 333.4L1061.4 335.0L1059.5 336.5L1057.6 337.9L1055.7 339.4L1053.8 340.7L1051.8 342.1L1049.9 343.5L1047.9 344.9L1046.0 346.2L1044.0 347.4L1042.0 348.6L1039.9 349.8L1037.9 350.9L1035.9 352.0L1033.8 353.2L1031.7 354.4L1029.6 355.5L1027.5 356.6L1025.4 357.7L1023.3 358.7L1021.2 359.7L1019.0 360.7L1016.9 361.8L1014.7 362.8L1012.5 363.9L1010.3 364.9L1008.1 365.9L1005.9 366.9L1003.6 367.8L1001.4 368.7L999.1 369.7L996.9 370.7L994.6 371.8L992.3 372.7L990.0 373.7L987.7 374.6L985.4 375.6L983.0 376.5L980.7 377.6L978.3 378.6L976.0 379.7L973.6 380.6L971.2 381.6L968.8 382.5L966.4 383.5L964.0 384.5L961.6 385.6L959.2 386.7L956.7 387.7L954.3 388.7L951.8 389.7L949.3 390.7L946.9 391.8L944.4 393.0L941.9 394.1L939.4 395.2L936.9 396.3L934.4 397.3L931.8 398.4L929.3 399.5L926.8 400.8L924.2 402.0L921.7 403.2L919.1 404.2L916.5 405.2L914.0 406.3L911.4 407.5L908.8 408.8L906.2 410.0L903.6 411.1L901.0 412.1L898.4 413.1L895.8 414.1L893.2 415.3L890.5 416.6L887.9 417.7L885.3 418.7L882.6 419.7L880.0 420.7L877.3 421.8L874.7 423.0L872.0 424.2L869.4 425.3L866.7 426.2L864.0 427.2L861.3 428.3L858.7 429.4L856.0 430.6L853.3 431.7L850.6 432.7L847.9 433.7L845.2 434.7L842.5 435.8L839.8 437.0L837.1 438.1L834.4 439.2L831.7 440.1L829.0 441.1L826.3 442.2L823.6 443.3L820.9 444.4L818.1 445.5L815.4 446.5L812.7 447.5L810.0 448.5L807.3 449.6L804.5 450.7L801.8 451.8L799.1 452.8L796.4 453.8L793.7 454.7L791.0 455.8L788.2 456.9L785.5 458.0L782.8 459.0L780.1 460.0L777.4 461.0L774.6 462.0L771.9 463.0L769.2 464.1L766.5 465.2L763.8 466.2L761.1 467.2L758.4 468.2L755.7 469.2L753.0 470.3L750.3 471.4L747.6 472.4L744.9 473.4L742.2 474.4L739.5 475.4L736.8 476.5L734.2 477.6L731.5 478.6L728.8 479.6L726.1 480.6L723.5 481.5L720.8 482.6L718.2 483.6L715.5 484.7L712.9 485.7L710.2 486.6L707.6 487.5L705.0 488.5L702.3 489.5L699.7 490.6L697.1 491.6L694.5 492.5L691.9 493.3L689.3 494.1L686.7 495.1L684.1 496.1L681.5 497.1L679.0 498.0L676.4 498.8L673.8 499.6L671.3 500.4L668.7 501.3L666.2 502.3L663.7 503.3L661.1 504.2L658.6 505.0L656.1 505.8L653.6 506.7L651.1 507.6L648.6 508.6L646.2 509.6L643.7 510.5L641.2 511.4L638.8 512.2L636.3 513.0L633.9 513.9L631.5 514.9L629.1 516.0L626.7 516.9L624.3 517.7L621.9 518.5L619.5 519.3L617.2 520.2L614.8 521.2L612.5 522.2L610.1 523.2L607.8 524.1L605.5 524.9L603.2 525.7L600.9 526.5L598.6 527.5L596.4 528.4L594.1 529.3L591.9 530.2L589.6 530.9L587.4 531.6L585.2 532.4L583.0 533.2L580.8 534.0L578.6 534.9L576.5 535.8L574.3 536.7L572.2 537.5L570.1 538.4L568.0 539.3L565.9 540.2L563.8 541.3L561.7 542.4L559.6 543.6L557.6 544.8L555.6 546.1L553.5 547.5L551.5 548.9L549.5 550.4L547.6 552.0L545.6 553.7L543.7 555.3L541.7 557.0L539.8 558.6L537.9 560.1L536.0 561.6L534.1 563.0L532.3 564.4L530.4 565.9L528.6 567.4L526.8 568.9L525.0 570.4L523.2 571.8L521.4 573.3L519.7 574.8L517.9 576.2L516.2 577.7L514.5 579.3L512.8 580.9L511.1 582.5L509.5 584.1L507.8 585.8L506.2 587.5L504.6 589.1L503.0 590.7L501.4 592.4L499.9 594.0L498.3 595.6L496.8 597.2L495.3 598.9L493.8 600.5L492.3 602.1L490.9 603.8L489.4 605.4L488.0 607.0L486.6 608.6L485.2 610.2L483.8 611.7L482.5 613.3L481.1 614.8L479.8 616.3L478.5 617.9L477.2 619.3L476.0 620.8L474.7 622.3L473.5 623.7L472.3 625.1L471.1 626.5L469.9 627.8L468.8 629.2L467.6 630.5L466.5 631.8L465.4 633.1L464.3 634.4L463.3 635.7L462.2 636.9L461.2 638.1L460.2 639.3L459.2 640.4L458.2 641.5L457.3 642.6L456.4 643.6L455.5 644.6L454.6 645.6L453.7 646.5L452.8 647.4L452.0 648.2L451.2 649.0L450.4 649.8L449.6 650.5L448.9 651.2L448.1 651.9L447.4 652.6L446.7 653.2L446.0 653.8L445.4 654.4L444.8 655.0L444.1 655.6L443.5 656.1L443.0 656.6L442.4 657.1L441.9 657.5L441.4 657.9L440.9 658.4L440.4 658.8L439.9 659.1L439.5 659.5L439.1 659.8L438.7 660.2L438.3 660.5L437.9 660.7L437.6 661.0L437.3 661.2L437.0 661.5L436.7 661.7L436.5 661.9L436.2 662.1L436.0 662.2L435.8 662.4L435.7 662.5L435.5 662.6L435.4 662.7L435.3 662.8L435.2 662.9L435.1 662.9L435.0 663.0L435.0 663.0L435.0 663.0Z" stroke="#aa3232"/>
<path d="M435.0 692.0L435.0 691.9L435.0 691.7L435.1 691.4L435.2 691.0L435.3 690.4L435.4 689.6L435.5 688.7L435.7 687.6L435.8 686.3L436.0 684.8L436.2 683.0L436.5 681.0L436.7 678.8L437.0 676.2L437.3 673.1L437.6 669.7L437.9 665.9L438.3 661.8L438.7 657.4L439.1 652.8L439.5 647.7L439.9 642.4L440.4 636.7L440.9 630.9L441.4 625.1L441.9 619.1L442.4 612.9L443.0 606.6L443.5 600.5L444.1 594.9L444.8 589.8L445.4 584.9L446.0 580.2L446.7 575.6L447.4 571.1L448.1 566.7L448.9 562.3L449.6 558.1L450.4 554.0L451.2 550.0L452.0 546.0L452.8 542.2L453.7 538.4L454.6 534.7L455.5 531.1L456.4 527.6L457.3 524.1L458.2 520.9L459.2 517.9L460.2 515.2L461.2 512.7L462.2 510.2L463.3 507.9L464.3 505.6L465.4 503.5L466.5 501.5L467.6 499.2L468.8 496.5L469.9 493.5L471.1 490.3L472.3 487.2L473.5 484.1L474.7 481.1L476.0 478.0L477.2 475.1L478.5 472.4L479.8 469.8L481.1 467.3L482.5 464.9L483.8 462.6L485.2 460.4L486.6 458.3L488.0 456.3L489.4 454.3L490.9 452.5L492.3 450.6L493.8 448.8L495.3 447.0L496.8 445.2L498.3 443.4L499.9 441.6L501.4 439.9L503.0 438.1L504.6 436.3L506.2 434.5L507.8 432.6L509.5 430.8L511.1 429.0L512.8 427.1L514.5 425.3L516.2 423.4L517.9 421.5L519.7 419.7L521.4 417.8L523.2 416.0L525.0 414.1L526.8 412.2L528.6 410.2L530.4 408.3L532.3 406.3L534.1 404.4L536.0 402.4L537.9 400.5L539.8 398.6L541.7 396.6L543.7 394.6L545.6 392.6L547.6 390.6L549.5 388.5L551.5 386.5L553.5 384.6L555.6 382.6L557.6 380.8L559.6 378.9L561.7 377.1L563.8 375.3L565.9 373.4L568.0 371.6L570.1 369.9L572.2 368.1L574.3 366.5L576.5 364.8L578.6 363.1L580.8 361.4L583.0 359.7L585.2 358.0L587.4 356.4L589.6 354.8L591.9 353.2L594.1 351.7L596.4 350.1L598.6 348.5L600.9 346.9L603.2 345.2L605.5 343.7L607.8 342.2L610.1 340.7L612.5 339.2L614.8 337.7L617.2 336.1L619.5 334.5L621.9 332.9L624.3 331.4L626.7 329.9L629.1 328.4L631.5 326.9L633.9 325.3L636.3 323.6L638.8 322.0L641.2 320.5L643.7 318.9L646.2 317.5L648.6 315.9L651.1 314.4L653.6 312.8L656.1 311.3L658.6 309.8L661.1 308.4L663.7 307.1L666.2 305.7L668.7 304.2L671.3 302.7L673.8 301.2L676.4 299.8L679.0 298.5L681.5 297.1L684.1 295.7L686.7 294.2L689.3 292.6L691.9 291.1L694.5 289.7L697.1 288.2L699.7 286.7L702.3 285.2L705.0 283.5L707.6 281.9L710.2 280.2L712.9 278.6L715.5 277.1L718.2 275.4L720.8 273.7L723.5 272.0L726.1 270.3L728.8 268.7L731.5 267.1L734.2 265.6L736.8 263.9L739.5 262.3L742.2 260.6L744.9 259.0L747.6 257.5L750.3 255.9L753.0 254.3L755.7 252.7L758.4 251.0L761.1 249.4L763.8 247.8L766.5 246.3L769.2 244.7L771.9 243.1L774.6 241.5L777.4 239.9L780.1 238.4L782.8 236.9L785.5 235.4L788.2 233.9L791.0 232.4L793.7 230.8L796.4 229.3L799.1 227.9L801.8 226.5L804.5 225.1L807.3 223.7L810.0 222.3L812.7 220.9L815.4 219.6L818.1 218.3L820.9 217.0L823.6 215.7L826.3 214.3L829.0 213.0L831.7 211.7L834.4 210.4L837.1 209.2L839.8 207.9L842.5 206.6L845.2 205.2L847.9 203.9L850.6 202.6L853.3 201.4L856.0 200.1L858.7 198.8L861.3 197.3L864.0 195.9L866.7 194.5L869.4 193.1L872.0 191.7L874.7 190.3L877.3 188.7L880.0 187.1L882.6 185.5L885.3 184.0L887.9 182.6L890.5 181.2L893.2 179.7L895.8 178.1L898.4 176.6L901.0 175.2L903.6 173.9L906.2 172.6L908.8 171.4L911.4 170.2L914.0 168.9L916.5 167.8L919.1 166.7L921.7 165.9L924.2 165.0L926.8 164.2L929.3 163.3L931.8 162.4L934.4 161.5L936.9 160.8L939.4 160.1L941.9 159.5L944.4 158.9L946.9 158.3L949.3 157.7L951.8 157.0L954.3 156.5L956.7 156.0L959.2 155.6L961.6 155.3L964.0 155.1L966.4 155.0L968.8 155.2L971.2 155.5L973.6 156.0L976.0 156.6L978.3 157.2L980.7 157.7L983.0 158.3L985.4 158.9L987.7 159.7L990.0 160.5L992.3 161.4L994.6 162.2L996.9 163.0L999.1 163.8L1001.4 164.4L1003.6 165.1L1005.9 165.8L1008.1 166.5L1010.3 167.2L1012.5 167.9L1014.7 168.5L1016.9 169.1L1019.0 169.7L1021.2 170.2L1023.3 170.6L1025.4 171.1L1027.5 171.5L1029.6 171.9L1031.7 172.2L1033.8 172.5L1035.9 172.8L1037.9 173.0L1039.9 173.3L1042.0 173.6L1044.0 173.9L1046.0 174.1L1047.9 174.3L1049.9 174.5L1051.8 174.7L1053.8 174.9L1055.7 175.0L1057.6 175.2L1059.5 175.4L1061.4 175.6L1063.2 175.8L1065.1 175.9L1066.9 176.0L1068.7 176.0L1070.5 176.0L1072.3 175.8L1074.1 175.6L1075.8 175.3L1077.6 175.0L1079.3 174.6L1081.0 174.2L1082.7 173.8L1084.4 173.3L1086.0 172.7L1087.7 172.2L1089.3 171.7L1090.9 171.2L1092.5 170.6L1094.1 170.1L1095.6 169.6L1097.2 169.0L1098.7 168.4L1100.2 167.7L1101.7 167.0L1103.2 166.3L1104.6 165.6L1106.1 164.8L1107.5 164.1L1108.9 163.4L1110.3 162.6L1111.7 161.8L1113.0 161.0L1114.4 160.2L1115.7 159.4L1117.0 158.5L1118.3 157.7L1119.5 156.8L1120.8 155.9L1122.0 155.1L1123.2 154.2L1124.4 153.4L1125.6 152.6L1126.7 151.8L1127.9 151.0L1129.0 150.2L1130.1 149.4L1131.2 148.6L1132.2 147.8L1133.3 147.0L1134.3 146.3L1135.3 145.5L1136.3 144.8L1137.3 144.1L1138.2 143.4L1139.1 142.7L1140.0 142.1L1140.9 141.4L1141.8 140.8L1142.7 140.2L1143.5 139.6L1144.3 139.0L1145.1 138.5L1145.9 138.0L1146.6 137.4L1147.4 136.9L1148.1 136.4L1148.8 135.9L1149.5 135.5L1150.1 135.0L1150.7 134.6L1151.4 134.2L1152.0 133.8L1152.5 133.4L1153.1 133.0L1153.6 132.6L1154.1 132.3L1154.6 131.9L1155.1 131.6L1155.6 131.3L1156.0 131.0L1156.4 130.7L1156.8 130.5L1157.2 130.2L1157.6 130.0L1157.9 129.7L1158.2 129.5L1158.5 129.3L1158.8 129.1L1159.0 129.0L1159.3 128.8L1159.5 128.7L1159.7 128.5L1159.8 128.4L1160.0 128.3L1160.1 128.2L1160.2 128.2L1160.3 128.1L1160.4 128.1L1160.5 128.0L1160.5 128.0L1160.5 128.0L1160.5 128.0L1160.5 128.0L1160.5 128.2L1160.4 128.4L1160.3 128.7L1160.2 129.2L1160.1 129.7L1160.0 130.3L1159.8 131.0L1159.7 131.8L1159.5 132.6L1159.3 133.6L1159.0 134.7L1158.8 135.8L1158.5 137.0L1158.2 138.3L1157.9 139.7L1157.6 141.2L1157.2 142.7L1156.8 144.3L1156.4 146.0L1156.0 147.8L1155.6 149.7L1155.1 151.6L1154.6 153.6L1154.1 155.7L1153.6 157.8L1153.1 160.0L1152.5 162.1L1152.0 164.3L1151.4 166.5L1150.7 168.8L1150.1 171.1L1149.5 173.3L1148.8 175.6L1148.1 177.8L1147.4 180.0L1146.6 182.1L1145.9 184.2L1145.1 186.2L1144.3 188.3L1143.5 190.4L1142.7 192.5L1141.8 194.6L1140.9 196.8L1140.0 198.9L1139.1 201.0L1138.2 203.1L1137.3 205.2L1136.3 207.4L1135.3 209.7L1134.3 212.0L1133.3 214.5L1132.2 217.1L1131.2 219.9L1130.1 223.1L1129.0 226.5L1127.9 229.8L1126.7 233.1L1125.6 236.4L1124.4 239.5L1123.2 242.5L1122.0 245.3L1120.8 248.1L1119.5 250.8L1118.3 253.4L1117.0 256.1L1115.7 258.7L1114.4 261.2L1113.0 263.7L1111.7 266.2L1110.3 268.7L1108.9 271.1L1107.5 273.4L1106.1 275.8L1104.6 278.1L1103.2 280.5L1101.7 282.8L1100.2 285.2L1098.7 287.5L1097.2 289.8L1095.6 292.1L1094.1 294.5L1092.5 296.8L1090.9 299.1L1089.3 301.3L1087.7 303.5L1086.0 305.7L1084.4 307.9L1082.7 310.0L1081.0 312.0L1079.3 314.0L1077.6 315.9L1075.8 317.7L1074.1 319.6L1072.3 321.4L1070.5 323.3L1068.7 325.1L1066.9 326.9L1065.1 328.6L1063.2 330.4L1061.4 332.0L1059.5 333.7L1057.6 335.2L1055.7 336.7L1053.8 338.2L1051.8 339.7L1049.9 341.1L1047.9 342.5L1046.0 343.9L1044.0 345.2L1042.0 346.5L1039.9 347.7L1037.9 349.0L1035.9 350.2L1033.8 351.4L1031.7 352.7L1029.6 353.9L1027.5 355.0L1025.4 356.2L1023.3 357.3L1021.2 358.4L1019.0 359.5L1016.9 360.6L1014.7 361.7L1012.5 362.8L1010.3 363.8L1008.1 364.8L1005.9 365.8L1003.6 366.8L1001.4 367.7L999.1 368.7L996.9 369.7L994.6 370.7L992.3 371.7L990.0 372.6L987.7 373.6L985.4 374.6L983.0 375.7L980.7 376.8L978.3 377.9L976.0 379.0L973.6 380.1L971.2 381.1L968.8 382.2L966.4 383.3L964.0 384.4L961.6 385.6L959.2 386.8L956.7 387.9L954.3 389.0L951.8 390.1L949.3 391.3L946.9 392.4L944.4 393.6L941.9 394.9L939.4 396.1L936.9 397.2L934.4 398.4L931.8 399.6L929.3 400.8L926.8 402.1L924.2 403.3L921.7 404.6L919.1 405.8L916.5 406.9L914.0 408.1L911.4 409.4L908.8 410.6L906.2 411.9L903.6 413.1L901.0 414.2L898.4 415.4L895.8 416.5L893.2 417.8L890.5 419.0L887.9 420.2L885.3 421.4L882.6 422.5L880.0 423.6L877.3 424.8L874.7 426.0L872.0 427.2L869.4 428.4L866.7 429.5L864.0 430.6L861.3 431.8L858.7 433.0L856.0 434.2L853.3 435.4L850.6 436.5L847.9 437.6L845.2 438.7L842.5 439.9L839.8 441.1L837.1 442.3L834.4 443.5L831.7 444.6L829.0 445.7L826.3 446.8L823.6 448.0L820.9 449.2L818.1 450.4L815.4 451.5L812.7 452.6L810.0 453.7L807.3 454.9L804.5 456.0L801.8 457.2L799.1 458.3L796.4 459.4L793.7 460.5L791.0 461.7L788.2 462.8L785.5 464.0L782.8 465.1L780.1 466.2L777.4 467.3L774.6 468.4L771.9 469.5L769.2 470.7L766.5 471.8L763.8 472.9L761.1 474.0L758.4 475.1L755.7 476.3L753.0 477.4L750.3 478.6L747.6 479.7L744.9 480.8L742.2 481.9L739.5 483.0L736.8 484.1L734.2 485.3L731.5 486.4L728.8 487.5L726.1 488.5L723.5 489.6L720.8 490.7L718.2 491.8L715.5 493.0L712.9 494.0L710.2 495.1L707.6 496.1L705.0 497.2L702.3 498.2L699.7 499.3L697.1 500.4L694.5 501.4L691.9 502.4L689.3 503.4L686.7 504.4L684.1 505.4L681.5 506.5L679.0 507.5L676.4 508.4L673.8 509.3L671.3 510.3L668.7 511.3L666.2 512.3L663.7 513.3L661.1 514.3L658.6 515.2L656.1 516.2L653.6 517.1L651.1 518.1L648.6 519.2L646.2 520.2L643.7 521.2L641.2 522.1L638.8 523.1L636.3 524.0L633.9 525.0L631.5 526.0L629.1 527.1L626.7 528.1L624.3 529.0L621.9 529.9L619.5 530.8L617.2 531.8L614.8 532.8L612.5 533.8L610.1 534.8L607.8 535.8L605.5 536.7L603.2 537.6L600.9 538.6L598.6 539.5L596.4 540.5L594.1 541.4L591.9 542.3L589.6 543.2L587.4 544.0L585.2 544.8L583.0 545.7L580.8 546.5L578.6 547.5L576.5 548.4L574.3 549.3L572.2 550.2L570.1 551.1L568.0 552.1L565.9 553.1L563.8 554.1L561.7 555.3L559.6 556.4L557.6 557.7L555.6 559.0L553.5 560.3L551.5 561.8L549.5 563.3L547.6 564.8L545.6 566.4L543.7 568.0L541.7 569.6L539.8 571.2L537.9 572.7L536.0 574.2L534.1 575.6L532.3 577.1L530.4 578.6L528.6 580.1L526.8 581.6L525.0 583.1L523.2 584.6L521.4 586.1L519.7 587.6L517.9 589.2L516.2 590.7L514.5 592.3L512.8 593.9L511.1 595.6L509.5 597.3L507.8 599.0L506.2 600.7L504.6 602.4L503.0 604.1L501.4 605.8L499.9 607.5L498.3 609.2L496.8 610.9L495.3 612.6L493.8 614.3L492.3 616.0L490.9 617.7L489.4 619.5L488.0 621.2L486.6 622.8L485.2 624.5L483.8 626.2L482.5 627.9L481.1 629.6L479.8 631.2L478.5 632.9L477.2 634.6L476.0 636.2L474.7 637.9L473.5 639.5L472.3 641.1L471.1 642.8L469.9 644.4L468.8 646.1L467.6 647.7L466.5 649.4L465.4 651.0L464.3 652.6L463.3 654.2L462.2 655.8L461.2 657.3L460.2 658.9L459.2 660.3L458.2 661.8L457.3 663.2L456.4 664.6L455.5 665.9L454.6 667.2L453.7 668.4L452.8 669.6L452.0 670.8L451.2 671.8L450.4 672.9L449.6 673.9L448.9 674.9L448.1 675.9L447.4 676.8L446.7 677.7L446.0 678.6L445.4 679.4L444.8 680.2L444.1 681.0L443.5 681.7L443.0 682.5L442.4 683.1L441.9 683.8L441.4 684.4L440.9 685.0L440.4 685.6L439.9 686.2L439.5 686.7L439.1 687.2L438.7 687.7L438.3 688.1L437.9 688.6L437.6 689.0L437.3 689.3L437.0 689.7L436.7 690.0L436.5 690.3L436.2 690.6L436.0 690.8L435.8 691.0L435.7 691.2L435.5 691.4L435.4 691.6L435.3 691.7L435.2 691.8L435.1 691.9L435.0 692.0L435.0 692.0L435.0 692.0Z" stroke="#98981e"/>
</g>
<g stroke="#3a3a3a" fill="none" stroke-linecap="butt">
<path stroke-width="6.2" d="M342.8 53.2 V783.6"/>
<path stroke-width="5.6" d="M333.4 780.5 H1251.5"/>
<path stroke-width="5.0" d="M326.3 736.0 H342.8"/>
<path stroke-width="5.0" d="M326.3 645.3 H342.8"/>
<path stroke-width="5.0" d="M326.3 554.6 H342.8"/>
<path stroke-width="5.0" d="M326.3 463.9 H342.8"/>
<path stroke-width="5.0" d="M326.3 373.2 H342.8"/>
<path stroke-width="5.0" d="M326.3 282.5 H342.8"/>
<path stroke-width="5.0" d="M326.3 191.8 H342.8"/>
<path stroke-width="5.0" d="M326.3 101.1 H342.8"/>
<path stroke-width="5.0" d="M333.4 690.6 H342.8"/>
<path stroke-width="5.0" d="M333.4 600.0 H342.8"/>
<path stroke-width="5.0" d="M333.4 509.2 H342.8"/>
<path stroke-width="5.0" d="M333.4 418.6 H342.8"/>
<path stroke-width="5.0" d="M333.4 327.8 H342.8"/>
<path stroke-width="5.0" d="M333.4 237.1 H342.8"/>
<path stroke-width="5.0" d="M333.4 146.4 H342.8"/>
<path stroke-width="5.0" d="M333.4 55.8 H342.8"/>
<path stroke-width="5.0" d="M361.1 780.5 V797.5"/>
<path stroke-width="5.0" d="M470.2 780.5 V797.5"/>
<path stroke-width="5.0" d="M579.3 780.5 V797.5"/>
<path stroke-width="5.0" d="M688.3 780.5 V797.5"/>
<path stroke-width="5.0" d="M797.4 780.5 V797.5"/>
<path stroke-width="5.0" d="M906.5 780.5 V797.5"/>
<path stroke-width="5.0" d="M1015.5 780.5 V797.5"/>
<path stroke-width="5.0" d="M1124.6 780.5 V797.5"/>
<path stroke-width="5.0" d="M1233.7 780.5 V797.5"/>
<path stroke-width="5.0" d="M415.6 780.5 V790.5"/>
<path stroke-width="5.0" d="M524.7 780.5 V790.5"/>
<path stroke-width="5.0" d="M633.8 780.5 V790.5"/>
<path stroke-width="5.0" d="M742.9 780.5 V790.5"/>
<path stroke-width="5.0" d="M851.9 780.5 V790.5"/>
<path stroke-width="5.0" d="M961.0 780.5 V790.5"/>
<path stroke-width="5.0" d="M1070.1 780.5 V790.5"/>
<path stroke-width="5.0" d="M1179.2 780.5 V790.5"/>
</g>
<g font-family='"Liberation Sans", sans-serif' font-weight="bold">
<text transform="translate(316.8,747.2) scale(0.937,1)" font-size="44.0" text-anchor="end" fill="#2b2b2b" stroke="#2b2b2b" stroke-width="0.7">-800</text>
<text transform="translate(316.8,656.5) scale(0.937,1)" font-size="44.0" text-anchor="end" fill="#2b2b2b" stroke="#2b2b2b" stroke-width="0.7">-600</text>
<text transform="translate(316.8,565.8) scale(0.937,1)" font-size="44.0" text-anchor="end" fill="#2b2b2b" stroke="#2b2b2b" stroke-width="0.7">-400</text>
<text transform="translate(316.8,475.1) scale(0.937,1)" font-size="44.0" text-anchor="end" fill="#2b2b2b" stroke="#2b2b2b" stroke-width="0.7">-200</text>
<text transform="translate(316.8,384.4) scale(0.937,1)" font-size="44.0" text-anchor="end" fill="#2b2b2b" stroke="#2b2b2b" stroke-width="0.7">0</text>
<text transform="translate(316.8,293.7) scale(0.937,1)" font-size="44.0" text-anchor="end" fill="#2b2b2b" stroke="#2b2b2b" stroke-width="0.7">200</text>
<text transform="translate(316.8,203.0) scale(0.937,1)" font-size="44.0" text-anchor="end" fill="#2b2b2b" stroke="#2b2b2b" stroke-width="0.7">400</text>
<text transform="translate(316.8,112.3) scale(0.937,1)" font-size="44.0" text-anchor="end" fill="#2b2b2b" stroke="#2b2b2b" stroke-width="0.7">600</text>
<text transform="translate(361.1,838.0) scale(1.000,1)" font-size="43.0" text-anchor="middle" fill="#2b2b2b" stroke="#2b2b2b" stroke-width="0.7">-1.2</text>
<text transform="translate(470.2,838.0) scale(1.000,1)" font-size="43.0" text-anchor="middle" fill="#2b2b2b" stroke="#2b2b2b" stroke-width="0.7">-0.9</text>
<text transform="translate(579.3,838.0) scale(1.000,1)" font-size="43.0" text-anchor="middle" fill="#2b2b2b" stroke="#2b2b2b" stroke-width="0.7">-0.6</text>
<text transform="translate(688.3,838.0) scale(1.000,1)" font-size="43.0" text-anchor="middle" fill="#2b2b2b" stroke="#2b2b2b" stroke-width="0.7">-0.3</text>
<text transform="translate(797.4,838.0) scale(1.000,1)" font-size="43.0" text-anchor="middle" fill="#2b2b2b" stroke="#2b2b2b" stroke-width="0.7">0.0</text>
<text transform="translate(906.5,838.0) scale(1.000,1)" font-size="43.0" text-anchor="middle" fill="#2b2b2b" stroke="#2b2b2b" stroke-width="0.7">0.3</text>
<text transform="translate(1015.5,838.0) scale(1.000,1)" font-size="43.0" text-anchor="middle" fill="#2b2b2b" stroke="#2b2b2b" stroke-width="0.7">0.6</text>
<text transform="translate(1124.6,838.0) scale(1.000,1)" font-size="43.0" text-anchor="middle" fill="#2b2b2b" stroke="#2b2b2b" stroke-width="0.7">0.9</text>
<text transform="translate(1233.7,838.0) scale(1.000,1)" font-size="43.0" text-anchor="middle" fill="#2b2b2b" stroke="#2b2b2b" stroke-width="0.7">1.2</text>
</g>
<text x="797" y="923.5" font-family='"Liberation Sans", sans-serif' font-weight="bold" font-size="55" fill="#1c1c1c" text-anchor="middle">potential (V)</text>
<text transform="translate(177,450.6) rotate(-90)" font-family='"Liberation Sans", sans-serif' font-weight="bold" font-size="57.8" fill="#1c1c1c" text-anchor="middle">current (uA)</text>
<text x="127.5" y="213" font-family='"Liberation Sans", sans-serif' font-weight="bold" font-size="101" fill="#000" stroke="#000" stroke-width="2" text-anchor="middle" textLength="135" lengthAdjust="spacingAndGlyphs">(a)</text>
<text x="1292" y="108.7" font-family='"Liberation Sans", sans-serif' font-weight="bold" font-size="42" fill="#2b2b2b" text-anchor="middle">500 ppb</text>
<text x="1283.5" y="403" font-family='"Liberation Sans", sans-serif' font-weight="bold" font-size="42" fill="#2b2b2b" text-anchor="middle">50 ppb</text>
<path d="M1286 359.5 V155" stroke="#3a3a3a" stroke-width="6.5" fill="none"/>
<path d="M1286 127 L1298 161 H1274 Z" fill="#000"/>
<!-- panel b -->
<g stroke="#2c2c2c" fill="none">
<path stroke-width="7.0" d="M343.0 932.7 V1708.0"/>
<path stroke-width="7.0" d="M326.3 1691.2 H1293.8"/>
<path stroke-width="5.6" d="M326.3 1565.1 H343.0"/>
<path stroke-width="5.6" d="M326.3 1439.2 H343.0"/>
<path stroke-width="5.6" d="M326.3 1313.2 H343.0"/>
<path stroke-width="5.6" d="M326.3 1187.3 H343.0"/>
<path stroke-width="5.6" d="M326.3 1061.4 H343.0"/>
<path stroke-width="5.6" d="M326.3 935.5 H343.0"/>
<path stroke-width="5.6" d="M334.0 1628.0 H343.0"/>
<path stroke-width="5.6" d="M334.0 1502.1 H343.0"/>
<path stroke-width="5.6" d="M334.0 1376.2 H343.0"/>
<path stroke-width="5.6" d="M334.0 1250.3 H343.0"/>
<path stroke-width="5.6" d="M334.0 1124.4 H343.0"/>
<path stroke-width="5.6" d="M334.0 998.4 H343.0"/>
<path stroke-width="5.6" d="M501.0 1691.0 V1708.0"/>
<path stroke-width="5.6" d="M659.0 1691.0 V1708.0"/>
<path stroke-width="5.6" d="M817.0 1691.0 V1708.0"/>
<path stroke-width="5.6" d="M975.0 1691.0 V1708.0"/>
<path stroke-width="5.6" d="M1133.0 1691.0 V1708.0"/>
<path stroke-width="5.6" d="M1291.0 1691.0 V1708.0"/>
<path stroke-width="5.6" d="M422.0 1691.0 V1701.5"/>
<path stroke-width="5.6" d="M580.0 1691.0 V1701.5"/>
<path stroke-width="5.6" d="M738.0 1691.0 V1701.5"/>
<path stroke-width="5.6" d="M896.0 1691.0 V1701.5"/>
<path stroke-width="5.6" d="M1054.0 1691.0 V1701.5"/>
<path stroke-width="5.6" d="M1212.0 1691.0 V1701.5"/>
</g>
<g font-family='"Liberation Sans", sans-serif' font-weight="bold">
<text transform="translate(317.0,1702.5) scale(0.925,1)" font-size="46.0" text-anchor="end" fill="#2b2b2b" stroke="#2b2b2b" stroke-width="0.7">0</text>
<text transform="translate(317.0,1576.6) scale(0.925,1)" font-size="46.0" text-anchor="end" fill="#2b2b2b" stroke="#2b2b2b" stroke-width="0.7">100</text>
<text transform="translate(317.0,1450.7) scale(0.925,1)" font-size="46.0" text-anchor="end" fill="#2b2b2b" stroke="#2b2b2b" stroke-width="0.7">200</text>
<text transform="translate(317.0,1324.7) scale(0.925,1)" font-size="46.0" text-anchor="end" fill="#2b2b2b" stroke="#2b2b2b" stroke-width="0.7">300</text>
<text transform="translate(317.0,1198.8) scale(0.925,1)" font-size="46.0" text-anchor="end" fill="#2b2b2b" stroke="#2b2b2b" stroke-width="0.7">400</text>
<text transform="translate(317.0,1072.9) scale(0.925,1)" font-size="46.0" text-anchor="end" fill="#2b2b2b" stroke="#2b2b2b" stroke-width="0.7">500</text>
<text transform="translate(317.0,947.0) scale(0.925,1)" font-size="46.0" text-anchor="end" fill="#2b2b2b" stroke="#2b2b2b" stroke-width="0.7">600</text>
<text transform="translate(343.0,1751.0) scale(0.970,1)" font-size="43.0" text-anchor="middle" fill="#2b2b2b" stroke="#2b2b2b" stroke-width="0.7">0</text>
<text transform="translate(501.0,1751.0) scale(0.970,1)" font-size="43.0" text-anchor="middle" fill="#2b2b2b" stroke="#2b2b2b" stroke-width="0.7">100</text>
<text transform="translate(659.0,1751.0) scale(0.970,1)" font-size="43.0" text-anchor="middle" fill="#2b2b2b" stroke="#2b2b2b" stroke-width="0.7">200</text>
<text transform="translate(817.0,1751.0) scale(0.970,1)" font-size="43.0" text-anchor="middle" fill="#2b2b2b" stroke="#2b2b2b" stroke-width="0.7">300</text>
<text transform="translate(975.0,1751.0) scale(0.970,1)" font-size="43.0" text-anchor="middle" fill="#2b2b2b" stroke="#2b2b2b" stroke-width="0.7">400</text>
<text transform="translate(1133.0,1751.0) scale(0.970,1)" font-size="43.0" text-anchor="middle" fill="#2b2b2b" stroke="#2b2b2b" stroke-width="0.7">500</text>
<text transform="translate(1291.0,1751.0) scale(0.970,1)" font-size="43.0" text-anchor="middle" fill="#2b2b2b" stroke="#2b2b2b" stroke-width="0.7">600</text>
</g>
<text x="817.5" y="1841" font-family='"Liberation Sans", sans-serif' font-weight="bold" font-size="57.5" fill="#1c1c1c" text-anchor="middle">concentration (ppb)</text>
<text transform="translate(190.5,1347.5) rotate(-90) scale(1.05,1)" font-family='"Liberation Sans", sans-serif' font-weight="bold" font-size="57" fill="#1c1c1c" text-anchor="middle">peak current (uA)</text>
<text x="128.5" y="1031" font-family='"Liberation Sans", sans-serif' font-weight="bold" font-size="101" fill="#000" stroke="#000" stroke-width="2" text-anchor="middle" textLength="138" lengthAdjust="spacingAndGlyphs">(b)</text>
<rect x="408.5" y="1585.0" width="27" height="28" rx="3" fill="#000"/>
<rect x="487.5" y="1514.0" width="27" height="28" rx="3" fill="#000"/>
<rect x="566.0" y="1457.0" width="28" height="27" rx="3" fill="#000"/>
<rect x="645.5" y="1405.8" width="28" height="28" rx="3" fill="#000"/>
<rect x="725.3" y="1349.0" width="28" height="33" rx="8" fill="#000"/>
<rect x="803.8" y="1292.2" width="28" height="35" rx="8" fill="#000"/>
<rect x="883.0" y="1236.5" width="27" height="37" rx="8" fill="#000"/>
<rect x="961.5" y="1179.8" width="28" height="36" rx="8" fill="#000"/>
<rect x="1041.0" y="1127.2" width="28" height="29" rx="3" fill="#000"/>
<rect x="1120.1" y="1074.5" width="29" height="33" rx="8" fill="#000"/>
<path d="M421.3 1591.8 L1135.4 1085.5" stroke="#ff1a1a" stroke-width="6" fill="none" stroke-linecap="round"/>
</svg>
</body></html>
